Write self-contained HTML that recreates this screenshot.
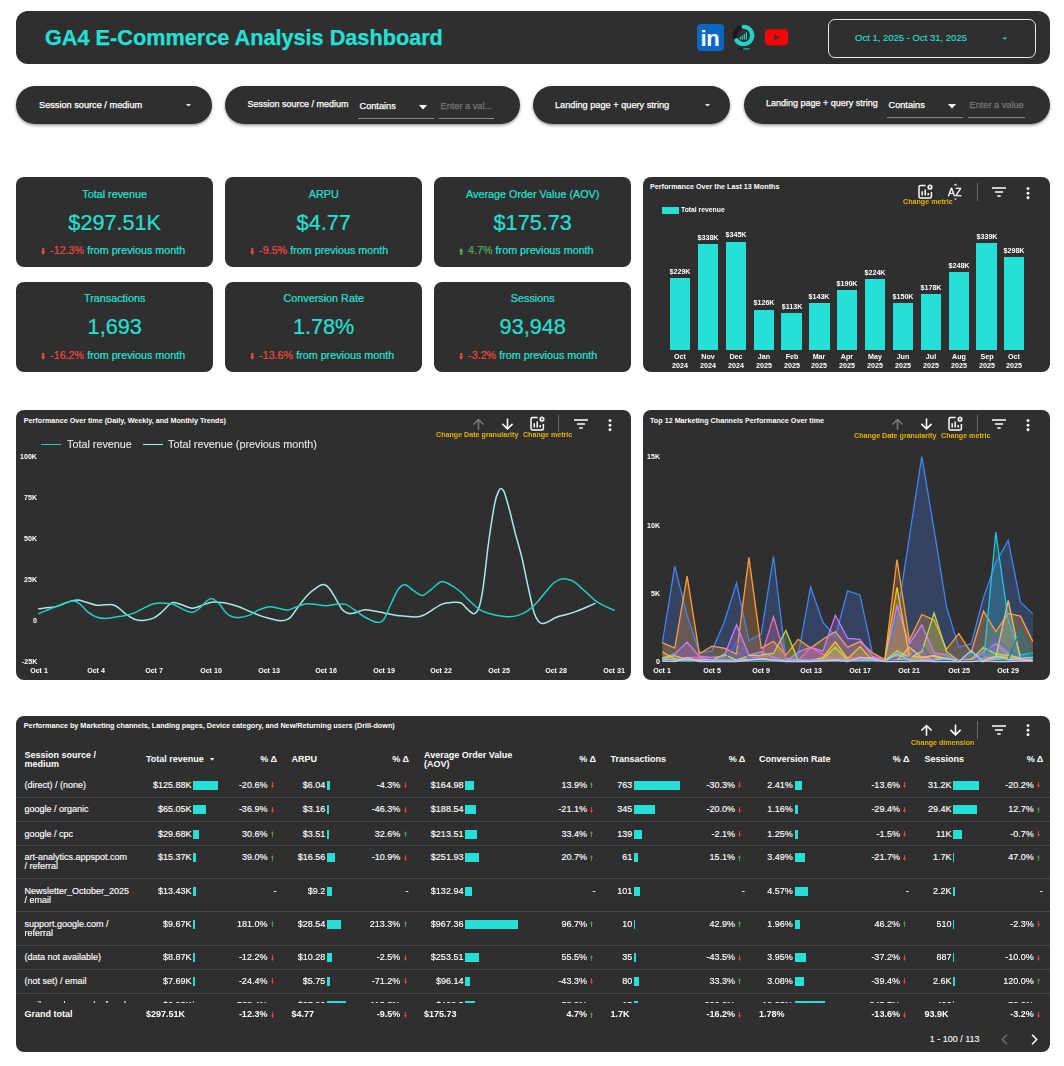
<!DOCTYPE html><html lang="en"><head><meta charset="utf-8"><title>GA4 E-Commerce Analysis Dashboard</title><style>
*{box-sizing:border-box;margin:0;padding:0}
html,body{width:1064px;height:1066px;background:#fff;overflow:hidden}
body{position:relative;font-family:"Liberation Sans",Arial,sans-serif;color:#fff}
.abs{position:absolute}
.panel{position:absolute;background:#2f2f2f;border-radius:8px}
.pill{position:absolute;background:#2f2f2f;border-radius:19px;height:38px;top:86px;box-shadow:0 1.5px 3px rgba(0,0,0,.42)}
.t{position:absolute;white-space:nowrap;line-height:1;-webkit-text-stroke:0.25px currentColor}
.ct{position:absolute;white-space:nowrap;line-height:1;font-weight:bold;font-size:7px;color:#fff;will-change:transform}
.kpi{position:absolute;background:#2f2f2f;border-radius:8px;width:197.4px;height:89.4px;text-align:center;color:#24e0d6}
.kpi .k1{position:absolute;left:0;right:0;top:11px;font-size:10.8px;line-height:12px;-webkit-text-stroke:0.2px currentColor}
.kpi .k2{position:absolute;left:0;right:0;top:32px;font-size:21.65px;line-height:26px;-webkit-text-stroke:0.2px currentColor}
.kpi .k3{position:absolute;left:25px;right:0;text-align:left;top:67px;font-size:10.75px;line-height:12px;white-space:nowrap;-webkit-text-stroke:0.2px currentColor}
.neg{color:#f0483e}.pos{color:#4caf50}
svg{position:absolute;overflow:visible}
</style></head><body>
<div class="panel" style="left:16px;top:11px;width:1034px;height:53px;border-radius:12px"></div>
<div class="t" style="left:45px;top:26.6px;font-size:21.68px;font-weight:bold;color:#24e0d6">GA4 E-Commerce Analysis Dashboard</div>
<div class="abs" style="left:697px;top:24px;width:27px;height:27px;border-radius:4px;background:#0a66c2"></div>
<div class="t" style="left:700.6px;top:27.5px;font-size:22px;font-weight:bold;color:#fff;letter-spacing:-0.4px;-webkit-text-stroke:0">in</div>
<svg style="left:732px;top:24px" width="24" height="28" viewBox="0 0 24 28">
<circle cx="11.6" cy="11.5" r="8.65" fill="none" stroke="#1b1b1b" stroke-width="4.3"/>
<path d="M11.6 2.85 A8.65 8.65 0 1 1 4.4 16.3" fill="none" stroke="#26d1c8" stroke-width="4.3" stroke-linecap="round"/>
<rect x="7.7" y="13" width="1.3" height="2.6" fill="#22c9c0"/><rect x="9.7" y="11.6" width="1.3" height="4" fill="#22c9c0"/><rect x="11.7" y="10" width="1.3" height="5.6" fill="#22c9c0"/><rect x="13.7" y="8.4" width="1.3" height="7.2" fill="#22c9c0"/>
<rect x="5.5" y="24.2" width="5.5" height="1.4" fill="#1b1b1b"/><rect x="11.3" y="24.2" width="6.2" height="1.4" fill="#1fa9a2"/>
</svg>
<svg style="left:765.2px;top:29.3px" width="23" height="17" viewBox="0 0 23 17"><rect x="0" y="0.3" width="23" height="16" rx="4" fill="#ff0000"/><path d="M9 5.2 L15 8.3 L9 11.4 Z" fill="#333"/></svg>
<div class="abs" style="left:828px;top:19px;width:208px;height:39px;border:1px solid #e6e6e6;border-radius:7px"></div>
<div class="t" style="left:855px;top:33px;font-size:9.5px;-webkit-text-stroke:0.1px currentColor;color:#24e0d6">Oct 1, 2025 - Oct 31, 2025</div>
<svg style="left:1002.3px;top:37.3px" width="6" height="4"><path d="M0.5 0.4 L5.1 0.4 L2.8 2.7 Z" fill="#24e0d6"/></svg>
<div class="pill" style="left:16px;width:196px"></div>
<div class="t" style="left:39px;top:100.7px;font-size:9.2px">Session source / medium</div>
<svg style="left:186px;top:104px" width="5" height="2.5"><path d="M0 0 L5 0 L2.5 2.5 Z" fill="#fff"/></svg>
<div class="pill" style="left:225px;width:295px"></div>
<div class="t" style="left:247.5px;top:99.6px;font-size:9px">Session source / medium</div>
<div class="t" style="left:359.5px;top:102px;font-size:9.2px">Contains</div>
<svg style="left:419px;top:104.6px" width="8" height="4.5"><path d="M0 0 L8 0 L4.0 4.5 Z" fill="#fff"/></svg>
<div class="abs" style="left:358px;top:118px;width:76px;height:1px;background:#8a8a8a"></div>
<div class="t" style="left:440.5px;top:102px;font-size:9.2px;color:#777">Enter a val...</div>
<div class="abs" style="left:439px;top:118px;width:55px;height:1px;background:#8a8a8a"></div>
<div class="pill" style="left:533px;width:197px"></div>
<div class="t" style="left:555px;top:100.8px;font-size:9.2px">Landing page + query string</div>
<svg style="left:705px;top:104px" width="5" height="2.5"><path d="M0 0 L5 0 L2.5 2.5 Z" fill="#fff"/></svg>
<div class="pill" style="left:744px;width:306px"></div>
<div class="t" style="left:766px;top:98.7px;font-size:9px">Landing page + query string</div>
<div class="t" style="left:888.5px;top:101px;font-size:9.2px">Contains</div>
<svg style="left:948px;top:103.6px" width="8" height="4.5"><path d="M0 0 L8 0 L4.0 4.5 Z" fill="#fff"/></svg>
<div class="abs" style="left:887px;top:117px;width:76px;height:1px;background:#8a8a8a"></div>
<div class="t" style="left:969.5px;top:101px;font-size:9.2px;color:#777">Enter a value</div>
<div class="abs" style="left:968px;top:117px;width:57px;height:1px;background:#8a8a8a"></div>
<div class="kpi" style="left:16px;top:177.3px"><div class="k1">Total revenue</div><div class="k2" style="top:32.5px">$297.51K</div><div class="k3"><svg style="position:static;display:inline-block;vertical-align:-1px;margin-right:4.6px" width="4.5" height="7" viewBox="0 0 4.5 7"><path d="M1.2 0 H3.3 V3.4 H4.5 L2.25 7 L0 3.4 H1.2 Z" fill="#f0483e"/></svg><span class="neg">-12.3%</span> from previous month</div></div>
<div class="kpi" style="left:225px;top:177.3px"><div class="k1">ARPU</div><div class="k2" style="top:32.5px">$4.77</div><div class="k3"><svg style="position:static;display:inline-block;vertical-align:-1px;margin-right:4.6px" width="4.5" height="7" viewBox="0 0 4.5 7"><path d="M1.2 0 H3.3 V3.4 H4.5 L2.25 7 L0 3.4 H1.2 Z" fill="#f0483e"/></svg><span class="neg">-9.5%</span> from previous month</div></div>
<div class="kpi" style="left:434px;top:177.3px"><div class="k1">Average Order Value (AOV)</div><div class="k2" style="top:32.5px">$175.73</div><div class="k3"><svg style="position:static;display:inline-block;vertical-align:-1px;margin-right:4.6px" width="4.5" height="7" viewBox="0 0 4.5 7"><path d="M1.2 7 H3.3 V3.6 H4.5 L2.25 0 L0 3.6 H1.2 Z" fill="#4caf50"/></svg><span class="pos">4.7%</span> from previous month</div></div>
<div class="kpi" style="left:16px;top:282.2px"><div class="k1" style="top:9.8px">Transactions</div><div class="k2">1,693</div><div class="k3"><svg style="position:static;display:inline-block;vertical-align:-1px;margin-right:4.6px" width="4.5" height="7" viewBox="0 0 4.5 7"><path d="M1.2 0 H3.3 V3.4 H4.5 L2.25 7 L0 3.4 H1.2 Z" fill="#f0483e"/></svg><span class="neg">-16.2%</span> from previous month</div></div>
<div class="kpi" style="left:225px;top:282.2px"><div class="k1" style="top:9.8px">Conversion Rate</div><div class="k2">1.78%</div><div class="k3"><svg style="position:static;display:inline-block;vertical-align:-1px;margin-right:4.6px" width="4.5" height="7" viewBox="0 0 4.5 7"><path d="M1.2 0 H3.3 V3.4 H4.5 L2.25 7 L0 3.4 H1.2 Z" fill="#f0483e"/></svg><span class="neg">-13.6%</span> from previous month</div></div>
<div class="kpi" style="left:434px;top:282.2px"><div class="k1" style="top:9.8px">Sessions</div><div class="k2">93,948</div><div class="k3"><svg style="position:static;display:inline-block;vertical-align:-1px;margin-right:4.6px" width="4.5" height="7" viewBox="0 0 4.5 7"><path d="M1.2 0 H3.3 V3.4 H4.5 L2.25 7 L0 3.4 H1.2 Z" fill="#f0483e"/></svg><span class="neg">-3.2%</span> from previous month</div></div>
<div class="panel" style="left:643px;top:177px;width:407px;height:195px"></div>
<div class="t" style="left:650px;top:182.5px;font-size:7.2px;font-weight:bold;-webkit-text-stroke:0;color:#fff">Performance Over the Last 13 Months</div>
<svg style="left:918.2px;top:184.2px" width="15" height="15" viewBox="0 0 15 15" fill="none" stroke="#fff">
<path d="M7.6 1.6 H2.6 Q1 1.6 1 3.2 V12.4 Q1 14 2.6 14 H11.8 Q13.4 14 13.4 12.4 V8" stroke-width="1.5"/>
<path d="M4.2 11.4 V7.2 M7.2 11.4 V5.6 M10.2 11.4 V9" stroke-width="1.5"/>
<circle cx="12" cy="3.2" r="1.6" stroke-width="1.4"/>
<path d="M12 0.2 V1 M12 5.4 V6.2 M9 3.2 H9.8 M14.2 3.2 H15 M9.9 1.1 L10.5 1.7 M13.5 4.7 L14.1 5.3 M14.1 1.1 L13.5 1.7 M10.5 4.7 L9.9 5.3" stroke-width="1.1"/>
</svg>
<div class="t" style="left:947.7px;top:188px;font-size:10.4px;color:#fff;letter-spacing:0.4px;-webkit-text-stroke:0.3px #fff;will-change:transform">AZ</div>
<svg style="left:953px;top:183px" width="5" height="18" viewBox="0 0 5 18" fill="#cfcfcf"><path d="M0.3 2.6 L2.5 0.4 L4.7 2.6 Z"/><path d="M0.8 15.6 L2.5 17.3 L4.2 15.6 Z"/></svg>
<div class="abs" style="left:977px;top:183px;width:1px;height:18px;background:#6b6b6b"></div>
<svg style="left:992px;top:187px" width="14" height="10" viewBox="0 0 14 10" stroke="#fff" stroke-width="1.5"><path d="M0 1 H14 M3 5 H11 M5.3 9 H8.7"/></svg>
<svg style="left:1026.2px;top:186.5px" width="4" height="13" viewBox="0 0 4 13" fill="#fff"><circle cx="2" cy="1.6" r="1.45"/><circle cx="2" cy="6.2" r="1.45"/><circle cx="2" cy="10.8" r="1.45"/></svg>
<div class="ct" style="left:903.4px;top:198.82500000000002px;font-size:7.15px;color:#e6b400;font-weight:bold">Change metric</div>
<div class="abs" style="left:662px;top:207px;width:17px;height:7px;background:#24e0d6"></div>
<div class="ct" style="left:680.7px;top:206.7px;font-size:6.8px;color:#fff;font-weight:bold">Total revenue</div>
<div class="abs" style="left:670.00px;top:278.18px;width:20.3px;height:72.02px;background:#24e0d6"></div>
<div class="ct" style="left:650.15px;top:268.9045px;width:60px;text-align:center;font-size:7.15px;color:#fff">$229K</div>
<div class="ct" style="left:650.15px;top:353.52500000000003px;width:60px;text-align:center;font-size:7.15px;color:#fff">Oct</div>
<div class="ct" style="left:650.15px;top:362.725px;width:60px;text-align:center;font-size:7.15px;color:#fff">2024</div>
<div class="abs" style="left:697.85px;top:243.90px;width:20.3px;height:106.30px;background:#24e0d6"></div>
<div class="ct" style="left:678.0px;top:234.62400000000002px;width:60px;text-align:center;font-size:7.15px;color:#fff">$338K</div>
<div class="ct" style="left:678.0px;top:353.52500000000003px;width:60px;text-align:center;font-size:7.15px;color:#fff">Nov</div>
<div class="ct" style="left:678.0px;top:362.725px;width:60px;text-align:center;font-size:7.15px;color:#fff">2024</div>
<div class="abs" style="left:725.70px;top:241.70px;width:20.3px;height:108.50px;background:#24e0d6"></div>
<div class="ct" style="left:705.85px;top:232.4225px;width:60px;text-align:center;font-size:7.15px;color:#fff">$345K</div>
<div class="ct" style="left:705.85px;top:353.52500000000003px;width:60px;text-align:center;font-size:7.15px;color:#fff">Dec</div>
<div class="ct" style="left:705.85px;top:362.725px;width:60px;text-align:center;font-size:7.15px;color:#fff">2024</div>
<div class="abs" style="left:753.55px;top:309.77px;width:20.3px;height:40.43px;background:#24e0d6"></div>
<div class="ct" style="left:733.6999999999999px;top:300.498px;width:60px;text-align:center;font-size:7.15px;color:#fff">$126K</div>
<div class="ct" style="left:733.6999999999999px;top:353.52500000000003px;width:60px;text-align:center;font-size:7.15px;color:#fff">Jan</div>
<div class="ct" style="left:733.6999999999999px;top:362.725px;width:60px;text-align:center;font-size:7.15px;color:#fff">2025</div>
<div class="abs" style="left:781.40px;top:313.46px;width:20.3px;height:36.74px;background:#24e0d6"></div>
<div class="ct" style="left:761.55px;top:304.1865px;width:60px;text-align:center;font-size:7.15px;color:#fff">$113K</div>
<div class="ct" style="left:761.55px;top:353.52500000000003px;width:60px;text-align:center;font-size:7.15px;color:#fff">Feb</div>
<div class="ct" style="left:761.55px;top:362.725px;width:60px;text-align:center;font-size:7.15px;color:#fff">2025</div>
<div class="abs" style="left:809.25px;top:303.23px;width:20.3px;height:46.97px;background:#24e0d6"></div>
<div class="ct" style="left:789.4px;top:293.9515px;width:60px;text-align:center;font-size:7.15px;color:#fff">$143K</div>
<div class="ct" style="left:789.4px;top:353.52500000000003px;width:60px;text-align:center;font-size:7.15px;color:#fff">Mar</div>
<div class="ct" style="left:789.4px;top:362.725px;width:60px;text-align:center;font-size:7.15px;color:#fff">2025</div>
<div class="abs" style="left:837.10px;top:290.44px;width:20.3px;height:59.76px;background:#24e0d6"></div>
<div class="ct" style="left:817.25px;top:281.17px;width:60px;text-align:center;font-size:7.15px;color:#fff">$190K</div>
<div class="ct" style="left:817.25px;top:353.52500000000003px;width:60px;text-align:center;font-size:7.15px;color:#fff">Apr</div>
<div class="ct" style="left:817.25px;top:362.725px;width:60px;text-align:center;font-size:7.15px;color:#fff">2025</div>
<div class="abs" style="left:864.95px;top:279.35px;width:20.3px;height:70.85px;background:#24e0d6"></div>
<div class="ct" style="left:845.1px;top:270.077px;width:60px;text-align:center;font-size:7.15px;color:#fff">$224K</div>
<div class="ct" style="left:845.1px;top:353.52500000000003px;width:60px;text-align:center;font-size:7.15px;color:#fff">May</div>
<div class="ct" style="left:845.1px;top:362.725px;width:60px;text-align:center;font-size:7.15px;color:#fff">2025</div>
<div class="abs" style="left:892.80px;top:303.02px;width:20.3px;height:47.17px;background:#24e0d6"></div>
<div class="ct" style="left:872.9499999999999px;top:293.75px;width:60px;text-align:center;font-size:7.15px;color:#fff">$150K</div>
<div class="ct" style="left:872.9499999999999px;top:353.52500000000003px;width:60px;text-align:center;font-size:7.15px;color:#fff">Jun</div>
<div class="ct" style="left:872.9499999999999px;top:362.725px;width:60px;text-align:center;font-size:7.15px;color:#fff">2025</div>
<div class="abs" style="left:920.65px;top:294.22px;width:20.3px;height:55.98px;background:#24e0d6"></div>
<div class="ct" style="left:900.8px;top:284.944px;width:60px;text-align:center;font-size:7.15px;color:#fff">$178K</div>
<div class="ct" style="left:900.8px;top:353.52500000000003px;width:60px;text-align:center;font-size:7.15px;color:#fff">Jul</div>
<div class="ct" style="left:900.8px;top:362.725px;width:60px;text-align:center;font-size:7.15px;color:#fff">2025</div>
<div class="abs" style="left:948.50px;top:272.20px;width:20.3px;height:78.00px;background:#24e0d6"></div>
<div class="ct" style="left:928.65px;top:262.92900000000003px;width:60px;text-align:center;font-size:7.15px;color:#fff">$248K</div>
<div class="ct" style="left:928.65px;top:353.52500000000003px;width:60px;text-align:center;font-size:7.15px;color:#fff">Aug</div>
<div class="ct" style="left:928.65px;top:362.725px;width:60px;text-align:center;font-size:7.15px;color:#fff">2025</div>
<div class="abs" style="left:976.35px;top:243.18px;width:20.3px;height:107.02px;background:#24e0d6"></div>
<div class="ct" style="left:956.5px;top:233.9095px;width:60px;text-align:center;font-size:7.15px;color:#fff">$339K</div>
<div class="ct" style="left:956.5px;top:353.52500000000003px;width:60px;text-align:center;font-size:7.15px;color:#fff">Sep</div>
<div class="ct" style="left:956.5px;top:362.725px;width:60px;text-align:center;font-size:7.15px;color:#fff">2025</div>
<div class="abs" style="left:1004.20px;top:257.28px;width:20.3px;height:92.92px;background:#24e0d6"></div>
<div class="ct" style="left:984.35px;top:248.00400000000002px;width:60px;text-align:center;font-size:7.15px;color:#fff">$298K</div>
<div class="ct" style="left:984.35px;top:353.52500000000003px;width:60px;text-align:center;font-size:7.15px;color:#fff">Oct</div>
<div class="ct" style="left:984.35px;top:362.725px;width:60px;text-align:center;font-size:7.15px;color:#fff">2025</div>
<div class="panel" style="left:16px;top:410px;width:615px;height:270px"></div>
<div class="t" style="left:23.8px;top:417.5px;font-size:7.18px;font-weight:bold;-webkit-text-stroke:0;color:#fff">Performance Over time (Daily, Weekly, and Monthly Trends)</div>
<svg style="left:472.3px;top:417.5px" width="13" height="12.4" viewBox="0 0 12 12" preserveAspectRatio="none" fill="none" stroke="#7a7a7a" stroke-width="1.45"><path d="M6 11.5 V1.6 M1.3 6.3 L6 1.5 L10.7 6.3"/></svg>
<svg style="left:501.3px;top:417.7px" width="13" height="12.4" viewBox="0 0 12 12" preserveAspectRatio="none" fill="none" stroke="#fff" stroke-width="1.45"><path d="M6 0.5 V10.4 M1.3 5.7 L6 10.5 L10.7 5.7"/></svg>
<svg style="left:530px;top:416px" width="15" height="15" viewBox="0 0 15 15" fill="none" stroke="#fff">
<path d="M7.6 1.6 H2.6 Q1 1.6 1 3.2 V12.4 Q1 14 2.6 14 H11.8 Q13.4 14 13.4 12.4 V8" stroke-width="1.5"/>
<path d="M4.2 11.4 V7.2 M7.2 11.4 V5.6 M10.2 11.4 V9" stroke-width="1.5"/>
<circle cx="12" cy="3.2" r="1.6" stroke-width="1.4"/>
<path d="M12 0.2 V1 M12 5.4 V6.2 M9 3.2 H9.8 M14.2 3.2 H15 M9.9 1.1 L10.5 1.7 M13.5 4.7 L14.1 5.3 M14.1 1.1 L13.5 1.7 M10.5 4.7 L9.9 5.3" stroke-width="1.1"/>
</svg>
<div class="abs" style="left:558px;top:414.6px;width:1px;height:17px;background:#6b6b6b"></div>
<svg style="left:574px;top:419.3px" width="14" height="10" viewBox="0 0 14 10" stroke="#fff" stroke-width="1.5"><path d="M0 1 H14 M3 5 H11 M5.3 9 H8.7"/></svg>
<svg style="left:608px;top:419px" width="4" height="13" viewBox="0 0 4 13" fill="#fff"><circle cx="2" cy="1.6" r="1.45"/><circle cx="2" cy="6.2" r="1.45"/><circle cx="2" cy="10.8" r="1.45"/></svg>
<div class="ct" style="left:436px;top:432.43px;font-size:7.14px;color:#e6b400;font-weight:bold">Change Date granularity</div>
<div class="ct" style="left:522.8px;top:432.45px;font-size:7.1px;color:#e6b400;font-weight:bold">Change metric</div>
<div class="abs" style="left:41px;top:443.6px;width:20px;height:1.4px;background:#1fd0c8"></div>
<div class="t" style="left:67px;top:438.8px;font-size:10.8px;color:#e6e6e6;-webkit-text-stroke:0.12px #e6e6e6;will-change:transform">Total revenue</div>
<div class="abs" style="left:142.5px;top:443.6px;width:20px;height:1.4px;background:#a6ece8"></div>
<div class="t" style="left:167.7px;top:438.8px;font-size:10.8px;color:#e6e6e6;-webkit-text-stroke:0.12px #e6e6e6;will-change:transform">Total revenue (previous month)</div>
<div class="ct" style="right:1027px;top:454.0px;font-size:7.1px;color:#fff">100K</div>
<div class="ct" style="right:1027px;top:495.0px;font-size:7.1px;color:#fff">75K</div>
<div class="ct" style="right:1027px;top:536.0px;font-size:7.1px;color:#fff">50K</div>
<div class="ct" style="right:1027px;top:577.0px;font-size:7.1px;color:#fff">25K</div>
<div class="ct" style="right:1027px;top:618.0px;font-size:7.1px;color:#fff">0</div>
<div class="ct" style="right:1027px;top:659.0px;font-size:7.1px;color:#fff">-25K</div>
<div class="ct" style="left:8.899999999999999px;top:667.6500000000001px;width:60px;text-align:center;font-size:7.1px;color:#fff">Oct 1</div>
<div class="ct" style="left:66.41px;top:667.6500000000001px;width:60px;text-align:center;font-size:7.1px;color:#fff">Oct 4</div>
<div class="ct" style="left:123.91999999999999px;top:667.6500000000001px;width:60px;text-align:center;font-size:7.1px;color:#fff">Oct 7</div>
<div class="ct" style="left:181.43px;top:667.6500000000001px;width:60px;text-align:center;font-size:7.1px;color:#fff">Oct 10</div>
<div class="ct" style="left:238.94px;top:667.6500000000001px;width:60px;text-align:center;font-size:7.1px;color:#fff">Oct 13</div>
<div class="ct" style="left:296.45px;top:667.6500000000001px;width:60px;text-align:center;font-size:7.1px;color:#fff">Oct 16</div>
<div class="ct" style="left:353.96px;top:667.6500000000001px;width:60px;text-align:center;font-size:7.1px;color:#fff">Oct 19</div>
<div class="ct" style="left:411.46999999999997px;top:667.6500000000001px;width:60px;text-align:center;font-size:7.1px;color:#fff">Oct 22</div>
<div class="ct" style="left:468.97999999999996px;top:667.6500000000001px;width:60px;text-align:center;font-size:7.1px;color:#fff">Oct 25</div>
<div class="ct" style="left:526.49px;top:667.6500000000001px;width:60px;text-align:center;font-size:7.1px;color:#fff">Oct 28</div>
<div class="ct" style="left:584.0px;top:667.6500000000001px;width:60px;text-align:center;font-size:7.1px;color:#fff">Oct 31</div>
<svg style="left:0;top:0" width="1064" height="1066" viewBox="0 0 1064 1066" fill="none" stroke-width="1.5" stroke-linejoin="round" stroke-linecap="round"><path d="M38.8 608.7 C40.5 608.5 45.6 608.0 48.8 607.6 C52.0 607.2 54.9 607.0 58.0 606.1 C61.1 605.2 64.4 603.3 67.6 602.3 C70.8 601.3 74.1 600.1 77.2 600.1 C80.3 600.1 83.2 601.4 86.4 602.3 C89.6 603.1 93.3 604.8 96.4 605.2 C99.5 605.6 102.5 604.9 105.2 604.8 C107.9 604.7 110.5 604.3 112.7 604.8 C114.9 605.3 116.1 606.0 118.3 607.6 C120.5 609.2 123.2 612.3 125.9 614.2 C128.6 616.1 131.9 618.2 134.7 619.2 C137.5 620.2 139.6 620.6 142.8 620.4 C146.0 620.2 150.8 619.2 153.9 617.9 C157.0 616.5 159.1 614.5 161.6 612.3 C164.1 610.1 167.2 606.4 169.1 604.8 C171.0 603.2 171.1 602.6 173.0 602.5 C174.9 602.4 177.2 603.2 180.4 604.2 C183.6 605.2 188.8 608.0 192.2 608.2 C195.6 608.5 197.8 606.7 201.0 605.7 C204.2 604.7 208.0 602.8 211.4 602.3 C214.8 601.8 218.5 602.3 221.7 602.6 C224.9 602.9 227.7 603.5 230.5 604.2 C233.3 604.9 235.6 605.5 238.8 606.7 C242.0 607.9 245.9 609.8 249.7 611.4 C253.5 613.0 258.2 615.0 261.4 616.1 C264.6 617.2 265.8 617.5 268.9 618.3 C272.0 619.1 277.0 620.6 280.2 620.8 C283.4 620.9 286.0 620.2 288.0 619.2 C290.0 618.2 290.9 616.9 292.4 615.1 C293.9 613.3 294.5 611.8 297.0 608.5 C299.5 605.2 303.8 599.0 307.2 595.4 C310.6 591.8 315.0 588.7 317.7 586.9 C320.4 585.1 321.5 584.3 323.4 584.5 C325.3 584.7 326.8 585.3 329.0 587.9 C331.2 590.5 334.3 596.5 336.5 600.1 C338.7 603.7 340.3 607.3 342.2 609.5 C344.1 611.7 345.9 612.6 347.8 613.2 C349.7 613.8 350.7 613.8 353.5 613.2 C356.3 612.6 361.3 610.2 364.7 609.8 C368.1 609.4 370.9 610.5 374.1 611.0 C377.3 611.5 380.4 612.2 383.9 612.9 C387.3 613.6 391.6 614.6 394.8 615.1 C398.0 615.6 399.2 615.8 403.1 616.1 C407.0 616.4 414.4 617.2 418.3 616.8 C422.2 616.4 422.6 615.8 426.5 613.7 C430.4 611.6 437.2 606.3 441.4 604.4 C445.5 602.5 448.2 602.8 451.4 602.5 C454.6 602.2 457.9 601.6 460.7 602.8 C463.4 604.0 465.7 607.8 467.9 609.6 C470.1 611.4 472.2 614.2 474.1 613.7 C476.0 613.2 477.8 611.1 479.3 606.5 C480.9 601.9 481.8 596.5 483.4 585.8 C484.9 575.1 486.7 556.2 488.6 542.4 C490.5 528.6 493.1 511.7 494.8 503.1 C496.5 494.5 497.9 493.1 498.9 490.7 C499.9 488.3 500.1 488.4 501.0 488.6 C501.9 488.8 502.7 488.2 504.1 491.7 C505.5 495.1 507.4 502.2 509.3 509.3 C511.2 516.4 513.4 526.2 515.5 534.1 C517.6 542.0 519.6 548.2 521.7 556.8 C523.8 565.4 525.8 576.5 527.9 585.8 C530.0 595.1 532.2 606.7 534.1 612.7 C536.0 618.7 537.7 620.2 539.2 622.0 C540.8 623.8 541.9 623.5 543.4 623.4 C544.9 623.3 546.3 622.6 548.5 621.6 C550.7 620.6 553.3 618.4 556.4 617.2 C559.5 616.0 564.0 615.2 567.2 614.3 C570.4 613.4 572.5 612.7 575.6 611.6 C578.7 610.5 582.6 608.9 585.8 607.5 C589.0 606.1 593.4 604.1 594.9 603.4" stroke="#a6ece8"/><path d="M38.8 613.6 C40.5 612.9 45.6 610.8 48.8 609.5 C52.0 608.2 54.9 606.9 58.0 605.7 C61.1 604.5 64.8 603.0 67.6 602.3 C70.4 601.5 72.9 600.8 75.1 601.2 C77.3 601.6 78.6 602.9 80.8 604.8 C83.0 606.6 85.7 610.3 88.3 612.3 C90.9 614.3 93.6 616.0 96.4 617.0 C99.2 618.0 102.0 618.5 105.2 618.5 C108.4 618.5 112.4 617.5 115.5 617.0 C118.6 616.5 120.8 616.4 124.0 615.7 C127.2 615.0 131.2 614.2 134.7 612.9 C138.1 611.5 141.5 609.1 144.7 607.6 C147.9 606.1 151.1 604.6 153.9 603.8 C156.7 603.0 158.4 602.8 161.6 602.9 C164.8 603.0 169.6 603.2 173.0 604.2 C176.4 605.2 179.1 607.7 182.3 609.1 C185.5 610.5 189.4 612.6 192.2 612.5 C195.0 612.4 196.8 610.4 199.2 608.5 C201.6 606.6 204.7 602.6 206.7 601.0 C208.7 599.4 209.8 598.6 211.4 598.6 C213.0 598.6 214.7 600.0 216.1 601.0 C217.5 602.0 218.4 602.9 220.0 604.8 C221.6 606.7 223.8 610.4 225.6 612.3 C227.3 614.2 228.3 615.1 230.5 616.0 C232.7 616.9 235.6 617.8 238.8 617.6 C242.0 617.5 246.6 616.3 249.7 615.1 C252.8 613.9 254.4 611.8 257.6 610.4 C260.8 609.0 265.4 607.1 268.9 606.7 C272.3 606.3 275.1 607.7 278.3 608.2 C281.5 608.8 284.9 610.2 288.0 610.0 C291.1 609.8 293.8 607.7 297.0 606.7 C300.2 605.7 303.8 604.1 307.2 603.8 C310.6 603.5 314.5 604.5 317.7 604.8 C320.9 605.1 323.3 605.8 326.4 605.7 C329.5 605.6 333.3 604.4 336.5 604.2 C339.7 604.0 342.5 603.4 345.6 604.4 C348.7 605.4 352.1 608.3 355.3 610.4 C358.5 612.5 361.1 615.0 364.7 617.0 C368.3 619.0 373.8 621.9 377.0 622.3 C380.2 622.7 381.6 622.3 383.9 619.2 C386.2 616.1 388.6 608.9 391.0 603.8 C393.4 598.7 396.2 592.0 398.6 588.8 C401.0 585.6 402.7 584.4 405.2 584.7 C407.7 585.0 410.8 588.9 413.6 590.7 C416.5 592.5 419.5 595.6 422.3 595.5 C425.1 595.4 427.5 592.2 430.7 589.9 C433.9 587.6 437.9 582.5 441.4 581.7 C444.8 581.0 448.2 583.7 451.4 585.4 C454.6 587.1 457.6 589.4 460.7 592.0 C463.8 594.6 466.8 598.4 470.0 601.3 C473.2 604.2 476.6 607.6 479.7 609.6 C482.8 611.6 485.4 612.3 488.6 613.3 C491.8 614.3 495.4 615.2 498.9 615.8 C502.3 616.4 506.1 616.9 509.3 616.8 C512.5 616.7 515.0 616.4 518.1 615.4 C521.2 614.4 524.7 612.8 527.9 610.6 C531.1 608.4 534.1 605.6 537.2 602.3 C540.3 599.0 543.8 594.2 546.5 591.0 C549.2 587.8 551.5 584.9 553.7 583.0 C555.9 581.1 557.8 580.3 559.5 579.6 C561.2 578.9 562.2 578.7 564.0 578.8 C565.8 578.9 568.1 579.3 570.0 580.0 C571.9 580.7 573.0 580.9 575.6 582.9 C578.2 584.9 582.6 589.1 585.8 592.0 C589.0 594.9 591.8 598.0 594.9 600.3 C598.0 602.6 601.2 604.2 604.4 605.9 C607.6 607.5 612.3 609.5 613.9 610.2" stroke="#1fd0c8"/></svg>
<div class="panel" style="left:643px;top:410px;width:407px;height:270px"></div>
<div class="t" style="left:650px;top:416.5px;font-size:7.2px;font-weight:bold;-webkit-text-stroke:0;color:#fff">Top 12 Marketing Channels Performance Over time</div>
<svg style="left:891.0px;top:417.5px" width="13" height="12.4" viewBox="0 0 12 12" preserveAspectRatio="none" fill="none" stroke="#7a7a7a" stroke-width="1.45"><path d="M6 11.5 V1.6 M1.3 6.3 L6 1.5 L10.7 6.3"/></svg>
<svg style="left:919.5px;top:417.7px" width="13" height="12.4" viewBox="0 0 12 12" preserveAspectRatio="none" fill="none" stroke="#fff" stroke-width="1.45"><path d="M6 0.5 V10.4 M1.3 5.7 L6 10.5 L10.7 5.7"/></svg>
<svg style="left:948px;top:416px" width="15" height="15" viewBox="0 0 15 15" fill="none" stroke="#fff">
<path d="M7.6 1.6 H2.6 Q1 1.6 1 3.2 V12.4 Q1 14 2.6 14 H11.8 Q13.4 14 13.4 12.4 V8" stroke-width="1.5"/>
<path d="M4.2 11.4 V7.2 M7.2 11.4 V5.6 M10.2 11.4 V9" stroke-width="1.5"/>
<circle cx="12" cy="3.2" r="1.6" stroke-width="1.4"/>
<path d="M12 0.2 V1 M12 5.4 V6.2 M9 3.2 H9.8 M14.2 3.2 H15 M9.9 1.1 L10.5 1.7 M13.5 4.7 L14.1 5.3 M14.1 1.1 L13.5 1.7 M10.5 4.7 L9.9 5.3" stroke-width="1.1"/>
</svg>
<div class="abs" style="left:977px;top:414.6px;width:1px;height:17px;background:#6b6b6b"></div>
<svg style="left:992px;top:419.3px" width="14" height="10" viewBox="0 0 14 10" stroke="#fff" stroke-width="1.5"><path d="M0 1 H14 M3 5 H11 M5.3 9 H8.7"/></svg>
<svg style="left:1026.2px;top:419px" width="4" height="13" viewBox="0 0 4 13" fill="#fff"><circle cx="2" cy="1.6" r="1.45"/><circle cx="2" cy="6.2" r="1.45"/><circle cx="2" cy="10.8" r="1.45"/></svg>
<div class="ct" style="left:853.7px;top:433.43px;font-size:7.14px;color:#e6b400;font-weight:bold">Change Date granularity</div>
<div class="ct" style="left:941px;top:433.43px;font-size:7.14px;color:#e6b400;font-weight:bold">Change metric</div>
<div class="ct" style="right:404px;top:453.84999999999997px;font-size:7.1px;color:#fff">15K</div>
<div class="ct" style="right:404px;top:522.75px;font-size:7.1px;color:#fff">10K</div>
<div class="ct" style="right:404px;top:590.85px;font-size:7.1px;color:#fff">5K</div>
<div class="ct" style="right:404px;top:658.95px;font-size:7.1px;color:#fff">0</div>
<div class="ct" style="left:632.4px;top:667.6500000000001px;width:60px;text-align:center;font-size:7.1px;color:#fff">Oct 1</div>
<div class="ct" style="left:681.8px;top:667.6500000000001px;width:60px;text-align:center;font-size:7.1px;color:#fff">Oct 5</div>
<div class="ct" style="left:731.1999999999999px;top:667.6500000000001px;width:60px;text-align:center;font-size:7.1px;color:#fff">Oct 9</div>
<div class="ct" style="left:780.5999999999999px;top:667.6500000000001px;width:60px;text-align:center;font-size:7.1px;color:#fff">Oct 13</div>
<div class="ct" style="left:830.0px;top:667.6500000000001px;width:60px;text-align:center;font-size:7.1px;color:#fff">Oct 17</div>
<div class="ct" style="left:879.4px;top:667.6500000000001px;width:60px;text-align:center;font-size:7.1px;color:#fff">Oct 21</div>
<div class="ct" style="left:928.8px;top:667.6500000000001px;width:60px;text-align:center;font-size:7.1px;color:#fff">Oct 25</div>
<div class="ct" style="left:978.2px;top:667.6500000000001px;width:60px;text-align:center;font-size:7.1px;color:#fff">Oct 29</div>
<svg style="left:0;top:0" width="1064" height="1066" viewBox="0 0 1064 1066" stroke-width="1.3" stroke-linejoin="miter"><polygon points="662.4,661.6 662.4,642.3 674.8,566.3 687.1,615.3 699.4,652.5 711.8,651.1 724.1,622.5 736.5,583.0 748.9,640.6 761.2,634.0 773.5,556.5 785.9,659.0 798.2,655.1 810.6,587.0 822.9,622.1 835.3,636.3 847.6,590.8 860.0,594.9 872.3,652.7 884.7,659.6 897.0,618.0 909.4,536.7 921.8,456.6 934.1,529.9 946.5,606.6 958.8,647.2 971.1,643.9 983.5,597.6 995.8,562.6 1008.2,540.4 1020.5,602.1 1032.9,613.9 1032.9,661.6" fill="#4285f4" fill-opacity="0.25" stroke="none"/><polygon points="662.4,661.6 662.4,642.7 674.8,648.0 687.1,576.1 699.4,653.7 711.8,646.2 724.1,648.1 736.5,654.1 748.9,557.4 761.2,648.1 773.5,641.3 785.9,655.1 798.2,639.3 810.6,648.1 822.9,639.3 835.3,631.6 847.6,647.2 860.0,641.6 872.3,652.7 884.7,659.6 897.0,559.5 909.4,640.4 921.8,614.5 934.1,620.1 946.5,649.3 958.8,633.7 971.1,652.7 983.5,611.2 995.8,631.6 1008.2,613.4 1020.5,616.1 1032.9,641.6 1032.9,661.6" fill="#ff9e40" fill-opacity="0.25" stroke="none"/><polygon points="662.4,661.6 662.4,658.1 674.8,653.7 687.1,642.3 699.4,656.2 711.8,657.5 724.1,656.2 736.5,624.8 748.9,655.1 761.2,651.8 773.5,657.1 785.9,661.6 798.2,652.1 810.6,647.2 822.9,651.1 835.3,615.3 847.6,638.4 860.0,639.3 872.3,656.2 884.7,660.2 897.0,605.5 909.4,643.9 921.8,624.8 934.1,652.7 946.5,654.8 958.8,661.6 971.1,660.2 983.5,651.7 995.8,643.9 1008.2,654.0 1020.5,660.0 1032.9,660.0 1032.9,661.6" fill="#c77dff" fill-opacity="0.25" stroke="none"/><polygon points="662.4,661.6 662.4,660.2 674.8,660.2 687.1,657.7 699.4,657.5 711.8,660.2 724.1,660.9 736.5,660.9 748.9,658.2 761.2,656.2 773.5,616.7 785.9,658.1 798.2,660.5 810.6,647.2 822.9,654.1 835.3,658.9 847.6,657.1 860.0,658.9 872.3,657.5 884.7,660.2 897.0,658.9 909.4,653.4 921.8,658.2 934.1,658.9 946.5,659.6 958.8,660.2 971.1,658.9 983.5,657.5 995.8,656.8 1008.2,658.9 1020.5,659.6 1032.9,660.2 1032.9,661.6" fill="#f06eb4" fill-opacity="0.25" stroke="none"/><polygon points="662.4,661.6 662.4,658.1 674.8,655.7 687.1,659.6 699.4,659.6 711.8,660.5 724.1,654.5 736.5,660.2 748.9,655.7 761.2,655.1 773.5,653.2 785.9,630.4 798.2,660.5 810.6,660.9 822.9,658.9 835.3,647.2 847.6,660.2 860.0,660.2 872.3,660.9 884.7,660.9 897.0,650.7 909.4,657.5 921.8,651.7 934.1,612.8 946.5,651.7 958.8,660.9 971.1,659.6 983.5,647.2 995.8,654.0 1008.2,655.5 1020.5,657.5 1032.9,658.9 1032.9,661.6" fill="#b8d957" fill-opacity="0.25" stroke="none"/><polygon points="662.4,661.6 662.4,651.8 674.8,659.0 687.1,660.9 699.4,660.9 711.8,660.9 724.1,660.9 736.5,660.9 748.9,660.9 761.2,660.9 773.5,660.9 785.9,660.9 798.2,660.9 810.6,660.9 822.9,657.5 835.3,641.9 847.6,658.9 860.0,646.6 872.3,660.2 884.7,660.9 897.0,587.4 909.4,656.2 921.8,657.5 934.1,656.2 946.5,660.2 958.8,660.9 971.1,660.9 983.5,660.2 995.8,656.2 1008.2,657.5 1020.5,658.9 1032.9,659.6 1032.9,661.6" fill="#f5c518" fill-opacity="0.25" stroke="none"/><polygon points="662.4,661.6 662.4,660.9 674.8,660.9 687.1,660.9 699.4,660.9 711.8,660.9 724.1,660.9 736.5,642.3 748.9,658.2 761.2,660.2 773.5,660.2 785.9,660.9 798.2,660.9 810.6,660.2 822.9,660.2 835.3,660.2 847.6,660.2 860.0,660.2 872.3,660.9 884.7,660.9 897.0,657.5 909.4,657.5 921.8,646.6 934.1,659.6 946.5,660.2 958.8,660.9 971.1,660.9 983.5,656.2 995.8,638.2 1008.2,649.3 1020.5,657.5 1032.9,658.9 1032.9,661.6" fill="#5c6bc0" fill-opacity="0.25" stroke="none"/><polygon points="662.4,661.6 662.4,660.2 674.8,660.2 687.1,660.9 699.4,660.9 711.8,660.9 724.1,660.9 736.5,660.9 748.9,660.9 761.2,660.9 773.5,660.9 785.9,660.9 798.2,660.9 810.6,660.9 822.9,660.9 835.3,660.9 847.6,660.9 860.0,660.9 872.3,660.9 884.7,660.9 897.0,660.9 909.4,660.9 921.8,660.9 934.1,660.9 946.5,660.9 958.8,660.9 971.1,660.9 983.5,661.6 995.8,532.2 1008.2,620.1 1020.5,655.1 1032.9,652.7 1032.9,661.6" fill="#26c6da" fill-opacity="0.25" stroke="none"/><polygon points="662.4,661.6 662.4,660.9 674.8,660.9 687.1,660.9 699.4,660.9 711.8,660.9 724.1,660.9 736.5,660.9 748.9,660.9 761.2,660.9 773.5,660.9 785.9,660.9 798.2,660.9 810.6,660.9 822.9,660.9 835.3,660.9 847.6,660.9 860.0,660.9 872.3,660.9 884.7,660.9 897.0,660.5 909.4,647.2 921.8,657.5 934.1,655.5 946.5,658.9 958.8,660.9 971.1,660.9 983.5,661.6 995.8,657.5 1008.2,600.3 1020.5,659.6 1032.9,660.5 1032.9,661.6" fill="#e6c07b" fill-opacity="0.25" stroke="none"/><polygon points="662.4,661.6 662.4,660.2 674.8,660.9 687.1,660.9 699.4,660.9 711.8,660.9 724.1,660.9 736.5,660.9 748.9,660.9 761.2,660.9 773.5,660.9 785.9,660.9 798.2,660.9 810.6,660.9 822.9,660.9 835.3,660.9 847.6,660.9 860.0,660.9 872.3,660.9 884.7,660.9 897.0,660.9 909.4,660.9 921.8,660.9 934.1,660.9 946.5,660.9 958.8,660.9 971.1,660.9 983.5,660.9 995.8,660.9 1008.2,659.6 1020.5,630.3 1032.9,659.6 1032.9,661.6" fill="#0f8a8a" fill-opacity="0.25" stroke="none"/><polygon points="662.4,661.6 662.4,658.9 674.8,660.2 687.1,660.2 699.4,660.2 711.8,660.2 724.1,660.2 736.5,660.2 748.9,659.6 761.2,658.9 773.5,660.2 785.9,660.2 798.2,660.2 810.6,660.2 822.9,660.2 835.3,659.6 847.6,660.2 860.0,660.2 872.3,660.2 884.7,661.3 897.0,654.0 909.4,660.2 921.8,660.2 934.1,660.2 946.5,657.9 958.8,661.6 971.1,650.7 983.5,661.6 995.8,656.2 1008.2,659.6 1020.5,658.2 1032.9,657.5 1032.9,661.6" fill="#80d8ff" fill-opacity="0.25" stroke="none"/><polygon points="662.4,661.6 662.4,660.9 674.8,661.6 687.1,657.5 699.4,661.6 711.8,661.6 724.1,661.6 736.5,661.6 748.9,660.2 761.2,658.9 773.5,660.2 785.9,661.6 798.2,661.6 810.6,661.6 822.9,660.9 835.3,660.2 847.6,661.6 860.0,657.5 872.3,658.2 884.7,661.6 897.0,661.6 909.4,661.6 921.8,660.9 934.1,661.6 946.5,661.6 958.8,661.6 971.1,661.6 983.5,660.9 995.8,661.6 1008.2,661.6 1020.5,660.9 1032.9,660.9 1032.9,661.6" fill="#e8b5f0" fill-opacity="0.25" stroke="none"/><polyline points="662.4,642.3 674.8,566.3 687.1,615.3 699.4,652.5 711.8,651.1 724.1,622.5 736.5,583.0 748.9,640.6 761.2,634.0 773.5,556.5 785.9,659.0 798.2,655.1 810.6,587.0 822.9,622.1 835.3,636.3 847.6,590.8 860.0,594.9 872.3,652.7 884.7,659.6 897.0,618.0 909.4,536.7 921.8,456.6 934.1,529.9 946.5,606.6 958.8,647.2 971.1,643.9 983.5,597.6 995.8,562.6 1008.2,540.4 1020.5,602.1 1032.9,613.9" fill="none" stroke="#4285f4"/><polyline points="662.4,642.7 674.8,648.0 687.1,576.1 699.4,653.7 711.8,646.2 724.1,648.1 736.5,654.1 748.9,557.4 761.2,648.1 773.5,641.3 785.9,655.1 798.2,639.3 810.6,648.1 822.9,639.3 835.3,631.6 847.6,647.2 860.0,641.6 872.3,652.7 884.7,659.6 897.0,559.5 909.4,640.4 921.8,614.5 934.1,620.1 946.5,649.3 958.8,633.7 971.1,652.7 983.5,611.2 995.8,631.6 1008.2,613.4 1020.5,616.1 1032.9,641.6" fill="none" stroke="#ff9e40"/><polyline points="662.4,658.1 674.8,653.7 687.1,642.3 699.4,656.2 711.8,657.5 724.1,656.2 736.5,624.8 748.9,655.1 761.2,651.8 773.5,657.1 785.9,661.6 798.2,652.1 810.6,647.2 822.9,651.1 835.3,615.3 847.6,638.4 860.0,639.3 872.3,656.2 884.7,660.2 897.0,605.5 909.4,643.9 921.8,624.8 934.1,652.7 946.5,654.8 958.8,661.6 971.1,660.2 983.5,651.7 995.8,643.9 1008.2,654.0 1020.5,660.0 1032.9,660.0" fill="none" stroke="#c77dff"/><polyline points="662.4,660.2 674.8,660.2 687.1,657.7 699.4,657.5 711.8,660.2 724.1,660.9 736.5,660.9 748.9,658.2 761.2,656.2 773.5,616.7 785.9,658.1 798.2,660.5 810.6,647.2 822.9,654.1 835.3,658.9 847.6,657.1 860.0,658.9 872.3,657.5 884.7,660.2 897.0,658.9 909.4,653.4 921.8,658.2 934.1,658.9 946.5,659.6 958.8,660.2 971.1,658.9 983.5,657.5 995.8,656.8 1008.2,658.9 1020.5,659.6 1032.9,660.2" fill="none" stroke="#f06eb4"/><polyline points="662.4,658.1 674.8,655.7 687.1,659.6 699.4,659.6 711.8,660.5 724.1,654.5 736.5,660.2 748.9,655.7 761.2,655.1 773.5,653.2 785.9,630.4 798.2,660.5 810.6,660.9 822.9,658.9 835.3,647.2 847.6,660.2 860.0,660.2 872.3,660.9 884.7,660.9 897.0,650.7 909.4,657.5 921.8,651.7 934.1,612.8 946.5,651.7 958.8,660.9 971.1,659.6 983.5,647.2 995.8,654.0 1008.2,655.5 1020.5,657.5 1032.9,658.9" fill="none" stroke="#b8d957"/><polyline points="662.4,651.8 674.8,659.0 687.1,660.9 699.4,660.9 711.8,660.9 724.1,660.9 736.5,660.9 748.9,660.9 761.2,660.9 773.5,660.9 785.9,660.9 798.2,660.9 810.6,660.9 822.9,657.5 835.3,641.9 847.6,658.9 860.0,646.6 872.3,660.2 884.7,660.9 897.0,587.4 909.4,656.2 921.8,657.5 934.1,656.2 946.5,660.2 958.8,660.9 971.1,660.9 983.5,660.2 995.8,656.2 1008.2,657.5 1020.5,658.9 1032.9,659.6" fill="none" stroke="#f5c518"/><polyline points="662.4,660.9 674.8,660.9 687.1,660.9 699.4,660.9 711.8,660.9 724.1,660.9 736.5,642.3 748.9,658.2 761.2,660.2 773.5,660.2 785.9,660.9 798.2,660.9 810.6,660.2 822.9,660.2 835.3,660.2 847.6,660.2 860.0,660.2 872.3,660.9 884.7,660.9 897.0,657.5 909.4,657.5 921.8,646.6 934.1,659.6 946.5,660.2 958.8,660.9 971.1,660.9 983.5,656.2 995.8,638.2 1008.2,649.3 1020.5,657.5 1032.9,658.9" fill="none" stroke="#5c6bc0"/><polyline points="662.4,660.2 674.8,660.2 687.1,660.9 699.4,660.9 711.8,660.9 724.1,660.9 736.5,660.9 748.9,660.9 761.2,660.9 773.5,660.9 785.9,660.9 798.2,660.9 810.6,660.9 822.9,660.9 835.3,660.9 847.6,660.9 860.0,660.9 872.3,660.9 884.7,660.9 897.0,660.9 909.4,660.9 921.8,660.9 934.1,660.9 946.5,660.9 958.8,660.9 971.1,660.9 983.5,661.6 995.8,532.2 1008.2,620.1 1020.5,655.1 1032.9,652.7" fill="none" stroke="#26c6da"/><polyline points="662.4,660.9 674.8,660.9 687.1,660.9 699.4,660.9 711.8,660.9 724.1,660.9 736.5,660.9 748.9,660.9 761.2,660.9 773.5,660.9 785.9,660.9 798.2,660.9 810.6,660.9 822.9,660.9 835.3,660.9 847.6,660.9 860.0,660.9 872.3,660.9 884.7,660.9 897.0,660.5 909.4,647.2 921.8,657.5 934.1,655.5 946.5,658.9 958.8,660.9 971.1,660.9 983.5,661.6 995.8,657.5 1008.2,600.3 1020.5,659.6 1032.9,660.5" fill="none" stroke="#e6c07b"/><polyline points="662.4,660.2 674.8,660.9 687.1,660.9 699.4,660.9 711.8,660.9 724.1,660.9 736.5,660.9 748.9,660.9 761.2,660.9 773.5,660.9 785.9,660.9 798.2,660.9 810.6,660.9 822.9,660.9 835.3,660.9 847.6,660.9 860.0,660.9 872.3,660.9 884.7,660.9 897.0,660.9 909.4,660.9 921.8,660.9 934.1,660.9 946.5,660.9 958.8,660.9 971.1,660.9 983.5,660.9 995.8,660.9 1008.2,659.6 1020.5,630.3 1032.9,659.6" fill="none" stroke="#0f8a8a"/><polyline points="662.4,658.9 674.8,660.2 687.1,660.2 699.4,660.2 711.8,660.2 724.1,660.2 736.5,660.2 748.9,659.6 761.2,658.9 773.5,660.2 785.9,660.2 798.2,660.2 810.6,660.2 822.9,660.2 835.3,659.6 847.6,660.2 860.0,660.2 872.3,660.2 884.7,661.3 897.0,654.0 909.4,660.2 921.8,660.2 934.1,660.2 946.5,657.9 958.8,661.6 971.1,650.7 983.5,661.6 995.8,656.2 1008.2,659.6 1020.5,658.2 1032.9,657.5" fill="none" stroke="#80d8ff"/><polyline points="662.4,660.9 674.8,661.6 687.1,657.5 699.4,661.6 711.8,661.6 724.1,661.6 736.5,661.6 748.9,660.2 761.2,658.9 773.5,660.2 785.9,661.6 798.2,661.6 810.6,661.6 822.9,660.9 835.3,660.2 847.6,661.6 860.0,657.5 872.3,658.2 884.7,661.6 897.0,661.6 909.4,661.6 921.8,660.9 934.1,661.6 946.5,661.6 958.8,661.6 971.1,661.6 983.5,660.9 995.8,661.6 1008.2,661.6 1020.5,660.9 1032.9,660.9" fill="none" stroke="#e8b5f0"/></svg>
<div class="panel" style="left:16px;top:716px;width:1034px;height:336px"></div>
<div class="t" style="left:23.8px;top:721.5px;font-size:7.22px;font-weight:bold;-webkit-text-stroke:0;color:#fff">Performance by Marketing channels, Landing pages, Device category, and New/Returning users (Drill-down)</div>
<svg style="left:919.5px;top:723.8px" width="13" height="12.4" viewBox="0 0 12 12" preserveAspectRatio="none" fill="none" stroke="#fff" stroke-width="1.45"><path d="M6 11.5 V1.6 M1.3 6.3 L6 1.5 L10.7 6.3"/></svg>
<svg style="left:948.5px;top:723.8px" width="13" height="12.4" viewBox="0 0 12 12" preserveAspectRatio="none" fill="none" stroke="#fff" stroke-width="1.45"><path d="M6 0.5 V10.4 M1.3 5.7 L6 10.5 L10.7 5.7"/></svg>
<div class="abs" style="left:977px;top:721px;width:1px;height:18px;background:#6b6b6b"></div>
<svg style="left:992px;top:724.6px" width="14" height="10" viewBox="0 0 14 10" stroke="#fff" stroke-width="1.5"><path d="M0 1 H14 M3 5 H11 M5.3 9 H8.7"/></svg>
<svg style="left:1026px;top:724px" width="4" height="13" viewBox="0 0 4 13" fill="#fff"><circle cx="2" cy="1.6" r="1.45"/><circle cx="2" cy="6.2" r="1.45"/><circle cx="2" cy="10.8" r="1.45"/></svg>
<div class="ct" style="left:911.3px;top:740.1500000000001px;font-size:7.1px;color:#e6b400;font-weight:bold">Change dimension</div>
<div class="t" style="left:24.6px;top:751.0px;font-size:9.0px;font-weight:bold;-webkit-text-stroke:0;color:#fff">Session source /</div>
<div class="t" style="left:24.6px;top:760.1999999999999px;font-size:9.0px;font-weight:bold;-webkit-text-stroke:0;color:#fff">medium</div>
<div class="t" style="left:146px;top:755.1999999999999px;font-size:9.0px;font-weight:bold;-webkit-text-stroke:0;color:#fff">Total revenue</div>
<svg style="left:210px;top:758px" width="5" height="3"><path d="M0 0 H4.4 L2.2 2.8 Z" fill="#fff"/></svg>
<div class="t" style="right:787px;top:755.1999999999999px;font-size:9.0px;font-weight:bold;-webkit-text-stroke:0;color:#fff">% Δ</div>
<div class="t" style="right:655px;top:755.1999999999999px;font-size:9.0px;font-weight:bold;-webkit-text-stroke:0;color:#fff">% Δ</div>
<div class="t" style="right:468px;top:755.1999999999999px;font-size:9.0px;font-weight:bold;-webkit-text-stroke:0;color:#fff">% Δ</div>
<div class="t" style="right:318.70000000000005px;top:755.1999999999999px;font-size:9.0px;font-weight:bold;-webkit-text-stroke:0;color:#fff">% Δ</div>
<div class="t" style="right:154.5px;top:755.1999999999999px;font-size:9.0px;font-weight:bold;-webkit-text-stroke:0;color:#fff">% Δ</div>
<div class="t" style="right:20.700000000000045px;top:755.1999999999999px;font-size:9.0px;font-weight:bold;-webkit-text-stroke:0;color:#fff">% Δ</div>
<div class="t" style="left:291.5px;top:755.1999999999999px;font-size:9.0px;font-weight:bold;-webkit-text-stroke:0;color:#fff">ARPU</div>
<div class="t" style="left:424px;top:751.0px;font-size:9.0px;font-weight:bold;-webkit-text-stroke:0;color:#fff">Average Order Value</div>
<div class="t" style="left:424px;top:760.1999999999999px;font-size:9.0px;font-weight:bold;-webkit-text-stroke:0;color:#fff">(AOV)</div>
<div class="t" style="left:610.5px;top:755.1999999999999px;font-size:9.0px;font-weight:bold;-webkit-text-stroke:0;color:#fff">Transactions</div>
<div class="t" style="left:759px;top:755.1999999999999px;font-size:9.0px;font-weight:bold;-webkit-text-stroke:0;color:#fff">Conversion Rate</div>
<div class="t" style="left:924.5px;top:755.1999999999999px;font-size:9.0px;font-weight:bold;-webkit-text-stroke:0;color:#fff">Sessions</div>
<div class="abs" style="left:16px;top:770px;width:1034px;height:233px;overflow:hidden">
<div class="t" style="left:8.399999999999999px;top:10.600000000000023px;font-size:9.0px;color:#fff;-webkit-text-stroke:0.15px #fff">(direct) / (none)</div>
<div class="t" style="right:858.4px;top:10.600000000000023px;font-size:9.0px;color:#fff;-webkit-text-stroke:0.15px #fff">$125.88K</div>
<div class="abs" style="left:177.0px;top:10.7px;width:25.0px;height:9px;background:#24e0d6"></div>
<div class="t" style="right:724.7px;top:10.600000000000023px;font-size:9.0px;color:#fff;-webkit-text-stroke:0.15px #fff">$6.04</div>
<div class="abs" style="left:311.2px;top:10.7px;width:3.0px;height:9px;background:#24e0d6"></div>
<div class="t" style="right:586.6px;top:10.600000000000023px;font-size:9.0px;color:#fff;-webkit-text-stroke:0.15px #fff">$164.98</div>
<div class="abs" style="left:449.2px;top:10.7px;width:9.1px;height:9px;background:#24e0d6"></div>
<div class="t" style="right:417.70000000000005px;top:10.600000000000023px;font-size:9.0px;color:#fff;-webkit-text-stroke:0.15px #fff">763</div>
<div class="abs" style="left:618.0px;top:10.7px;width:46.2px;height:9px;background:#24e0d6"></div>
<div class="t" style="right:257.29999999999995px;top:10.600000000000023px;font-size:9.0px;color:#fff;-webkit-text-stroke:0.15px #fff">2.41%</div>
<div class="abs" style="left:778.8px;top:10.7px;width:6.9px;height:9px;background:#24e0d6"></div>
<div class="t" style="right:98.60000000000002px;top:10.600000000000023px;font-size:9.0px;color:#fff;-webkit-text-stroke:0.15px #fff">31.2K</div>
<div class="abs" style="left:937.0px;top:10.7px;width:25.9px;height:9px;background:#24e0d6"></div>
<div class="t" style="right:782.6px;top:10.600000000000023px;font-size:9.0px;color:#fff;-webkit-text-stroke:0.15px #fff">-20.6%</div>
<svg style="left:254.89999999999998px;top:12.300000000000022px" width="3" height="6" viewBox="0 0 4 6" preserveAspectRatio="none"><path d="M1.3 0 H2.7 V3.2 H4 L2 6 L0 3.2 H1.3 Z" fill="#e8443a"/></svg>
<div class="t" style="right:649.8px;top:10.600000000000023px;font-size:9.0px;color:#fff;-webkit-text-stroke:0.15px #fff">-4.3%</div>
<svg style="left:388.3px;top:12.300000000000022px" width="3" height="6" viewBox="0 0 4 6" preserveAspectRatio="none"><path d="M1.3 0 H2.7 V3.2 H4 L2 6 L0 3.2 H1.3 Z" fill="#e8443a"/></svg>
<div class="t" style="right:463.1px;top:10.600000000000023px;font-size:9.0px;color:#fff;-webkit-text-stroke:0.15px #fff">13.9%</div>
<svg style="left:574.2px;top:12.300000000000022px" width="3" height="6" viewBox="0 0 4 6" preserveAspectRatio="none"><path d="M1.3 6 H2.7 V2.8 H4 L2 0 L0 2.8 H1.3 Z" fill="#3fa34d"/></svg>
<div class="t" style="right:315px;top:10.600000000000023px;font-size:9.0px;color:#fff;-webkit-text-stroke:0.15px #fff">-30.3%</div>
<svg style="left:722.1px;top:12.300000000000022px" width="3" height="6" viewBox="0 0 4 6" preserveAspectRatio="none"><path d="M1.3 0 H2.7 V3.2 H4 L2 6 L0 3.2 H1.3 Z" fill="#e8443a"/></svg>
<div class="t" style="right:150.10000000000002px;top:10.600000000000023px;font-size:9.0px;color:#fff;-webkit-text-stroke:0.15px #fff">-13.6%</div>
<svg style="left:887.2px;top:12.300000000000022px" width="3" height="6" viewBox="0 0 4 6" preserveAspectRatio="none"><path d="M1.3 0 H2.7 V3.2 H4 L2 6 L0 3.2 H1.3 Z" fill="#e8443a"/></svg>
<div class="t" style="right:16.299999999999955px;top:10.600000000000023px;font-size:9.0px;color:#fff;-webkit-text-stroke:0.15px #fff">-20.2%</div>
<svg style="left:1021.0px;top:12.300000000000022px" width="3" height="6" viewBox="0 0 4 6" preserveAspectRatio="none"><path d="M1.3 0 H2.7 V3.2 H4 L2 6 L0 3.2 H1.3 Z" fill="#e8443a"/></svg>
<div class="abs" style="left:0;top:27.0px;width:1034px;height:1px;background:#474747"></div>
<div class="t" style="left:8.399999999999999px;top:35.10000000000002px;font-size:9.0px;color:#fff;-webkit-text-stroke:0.15px #fff">google / organic</div>
<div class="t" style="right:858.4px;top:35.10000000000002px;font-size:9.0px;color:#fff;-webkit-text-stroke:0.15px #fff">$65.05K</div>
<div class="abs" style="left:177.0px;top:35.2px;width:12.9px;height:9px;background:#24e0d6"></div>
<div class="t" style="right:724.7px;top:35.10000000000002px;font-size:9.0px;color:#fff;-webkit-text-stroke:0.15px #fff">$3.16</div>
<div class="abs" style="left:311.2px;top:35.2px;width:1.5px;height:9px;background:#24e0d6"></div>
<div class="t" style="right:586.6px;top:35.10000000000002px;font-size:9.0px;color:#fff;-webkit-text-stroke:0.15px #fff">$188.54</div>
<div class="abs" style="left:449.2px;top:35.2px;width:10.4px;height:9px;background:#24e0d6"></div>
<div class="t" style="right:417.70000000000005px;top:35.10000000000002px;font-size:9.0px;color:#fff;-webkit-text-stroke:0.15px #fff">345</div>
<div class="abs" style="left:618.0px;top:35.2px;width:20.9px;height:9px;background:#24e0d6"></div>
<div class="t" style="right:257.29999999999995px;top:35.10000000000002px;font-size:9.0px;color:#fff;-webkit-text-stroke:0.15px #fff">1.16%</div>
<div class="abs" style="left:778.8px;top:35.2px;width:3.3px;height:9px;background:#24e0d6"></div>
<div class="t" style="right:98.60000000000002px;top:35.10000000000002px;font-size:9.0px;color:#fff;-webkit-text-stroke:0.15px #fff">29.4K</div>
<div class="abs" style="left:937.0px;top:35.2px;width:24.4px;height:9px;background:#24e0d6"></div>
<div class="t" style="right:782.6px;top:35.10000000000002px;font-size:9.0px;color:#fff;-webkit-text-stroke:0.15px #fff">-36.9%</div>
<svg style="left:254.89999999999998px;top:36.800000000000026px" width="3" height="6" viewBox="0 0 4 6" preserveAspectRatio="none"><path d="M1.3 0 H2.7 V3.2 H4 L2 6 L0 3.2 H1.3 Z" fill="#e8443a"/></svg>
<div class="t" style="right:649.8px;top:35.10000000000002px;font-size:9.0px;color:#fff;-webkit-text-stroke:0.15px #fff">-46.3%</div>
<svg style="left:388.3px;top:36.800000000000026px" width="3" height="6" viewBox="0 0 4 6" preserveAspectRatio="none"><path d="M1.3 0 H2.7 V3.2 H4 L2 6 L0 3.2 H1.3 Z" fill="#e8443a"/></svg>
<div class="t" style="right:463.1px;top:35.10000000000002px;font-size:9.0px;color:#fff;-webkit-text-stroke:0.15px #fff">-21.1%</div>
<svg style="left:574.2px;top:36.800000000000026px" width="3" height="6" viewBox="0 0 4 6" preserveAspectRatio="none"><path d="M1.3 0 H2.7 V3.2 H4 L2 6 L0 3.2 H1.3 Z" fill="#e8443a"/></svg>
<div class="t" style="right:315px;top:35.10000000000002px;font-size:9.0px;color:#fff;-webkit-text-stroke:0.15px #fff">-20.0%</div>
<svg style="left:722.1px;top:36.800000000000026px" width="3" height="6" viewBox="0 0 4 6" preserveAspectRatio="none"><path d="M1.3 0 H2.7 V3.2 H4 L2 6 L0 3.2 H1.3 Z" fill="#e8443a"/></svg>
<div class="t" style="right:150.10000000000002px;top:35.10000000000002px;font-size:9.0px;color:#fff;-webkit-text-stroke:0.15px #fff">-29.4%</div>
<svg style="left:887.2px;top:36.800000000000026px" width="3" height="6" viewBox="0 0 4 6" preserveAspectRatio="none"><path d="M1.3 0 H2.7 V3.2 H4 L2 6 L0 3.2 H1.3 Z" fill="#e8443a"/></svg>
<div class="t" style="right:16.299999999999955px;top:35.10000000000002px;font-size:9.0px;color:#fff;-webkit-text-stroke:0.15px #fff">12.7%</div>
<svg style="left:1021.0px;top:36.800000000000026px" width="3" height="6" viewBox="0 0 4 6" preserveAspectRatio="none"><path d="M1.3 6 H2.7 V2.8 H4 L2 0 L0 2.8 H1.3 Z" fill="#3fa34d"/></svg>
<div class="abs" style="left:0;top:51.3px;width:1034px;height:1px;background:#474747"></div>
<div class="t" style="left:8.399999999999999px;top:59.5px;font-size:9.0px;color:#fff;-webkit-text-stroke:0.15px #fff">google / cpc</div>
<div class="t" style="right:858.4px;top:59.5px;font-size:9.0px;color:#fff;-webkit-text-stroke:0.15px #fff">$29.68K</div>
<div class="abs" style="left:177.0px;top:59.6px;width:5.9px;height:9px;background:#24e0d6"></div>
<div class="t" style="right:724.7px;top:59.5px;font-size:9.0px;color:#fff;-webkit-text-stroke:0.15px #fff">$3.51</div>
<div class="abs" style="left:311.2px;top:59.6px;width:1.7px;height:9px;background:#24e0d6"></div>
<div class="t" style="right:586.6px;top:59.5px;font-size:9.0px;color:#fff;-webkit-text-stroke:0.15px #fff">$213.51</div>
<div class="abs" style="left:449.2px;top:59.6px;width:11.7px;height:9px;background:#24e0d6"></div>
<div class="t" style="right:417.70000000000005px;top:59.5px;font-size:9.0px;color:#fff;-webkit-text-stroke:0.15px #fff">139</div>
<div class="abs" style="left:618.0px;top:59.6px;width:8.4px;height:9px;background:#24e0d6"></div>
<div class="t" style="right:257.29999999999995px;top:59.5px;font-size:9.0px;color:#fff;-webkit-text-stroke:0.15px #fff">1.25%</div>
<div class="abs" style="left:778.8px;top:59.6px;width:3.6px;height:9px;background:#24e0d6"></div>
<div class="t" style="right:98.60000000000002px;top:59.5px;font-size:9.0px;color:#fff;-webkit-text-stroke:0.15px #fff">11K</div>
<div class="abs" style="left:937.0px;top:59.6px;width:9.1px;height:9px;background:#24e0d6"></div>
<div class="t" style="right:782.6px;top:59.5px;font-size:9.0px;color:#fff;-webkit-text-stroke:0.15px #fff">30.6%</div>
<svg style="left:254.89999999999998px;top:61.2px" width="3" height="6" viewBox="0 0 4 6" preserveAspectRatio="none"><path d="M1.3 6 H2.7 V2.8 H4 L2 0 L0 2.8 H1.3 Z" fill="#3fa34d"/></svg>
<div class="t" style="right:649.8px;top:59.5px;font-size:9.0px;color:#fff;-webkit-text-stroke:0.15px #fff">32.6%</div>
<svg style="left:388.3px;top:61.2px" width="3" height="6" viewBox="0 0 4 6" preserveAspectRatio="none"><path d="M1.3 6 H2.7 V2.8 H4 L2 0 L0 2.8 H1.3 Z" fill="#3fa34d"/></svg>
<div class="t" style="right:463.1px;top:59.5px;font-size:9.0px;color:#fff;-webkit-text-stroke:0.15px #fff">33.4%</div>
<svg style="left:574.2px;top:61.2px" width="3" height="6" viewBox="0 0 4 6" preserveAspectRatio="none"><path d="M1.3 6 H2.7 V2.8 H4 L2 0 L0 2.8 H1.3 Z" fill="#3fa34d"/></svg>
<div class="t" style="right:315px;top:59.5px;font-size:9.0px;color:#fff;-webkit-text-stroke:0.15px #fff">-2.1%</div>
<svg style="left:722.1px;top:61.2px" width="3" height="6" viewBox="0 0 4 6" preserveAspectRatio="none"><path d="M1.3 0 H2.7 V3.2 H4 L2 6 L0 3.2 H1.3 Z" fill="#e8443a"/></svg>
<div class="t" style="right:150.10000000000002px;top:59.5px;font-size:9.0px;color:#fff;-webkit-text-stroke:0.15px #fff">-1.5%</div>
<svg style="left:887.2px;top:61.2px" width="3" height="6" viewBox="0 0 4 6" preserveAspectRatio="none"><path d="M1.3 0 H2.7 V3.2 H4 L2 6 L0 3.2 H1.3 Z" fill="#e8443a"/></svg>
<div class="t" style="right:16.299999999999955px;top:59.5px;font-size:9.0px;color:#fff;-webkit-text-stroke:0.15px #fff">-0.7%</div>
<svg style="left:1021.0px;top:61.2px" width="3" height="6" viewBox="0 0 4 6" preserveAspectRatio="none"><path d="M1.3 0 H2.7 V3.2 H4 L2 6 L0 3.2 H1.3 Z" fill="#e8443a"/></svg>
<div class="abs" style="left:0;top:75.0px;width:1034px;height:1px;background:#474747"></div>
<div class="t" style="left:8.399999999999999px;top:82.89999999999998px;font-size:9.0px;color:#fff;-webkit-text-stroke:0.15px #fff">art-analytics.appspot.com</div>
<div class="t" style="left:8.399999999999999px;top:92.19999999999993px;font-size:9.0px;color:#fff;-webkit-text-stroke:0.15px #fff">/ referral</div>
<div class="t" style="right:858.4px;top:82.89999999999998px;font-size:9.0px;color:#fff;-webkit-text-stroke:0.15px #fff">$15.37K</div>
<div class="abs" style="left:177.0px;top:83.0px;width:3.1px;height:9px;background:#24e0d6"></div>
<div class="t" style="right:724.7px;top:82.89999999999998px;font-size:9.0px;color:#fff;-webkit-text-stroke:0.15px #fff">$16.56</div>
<div class="abs" style="left:311.2px;top:83.0px;width:8.1px;height:9px;background:#24e0d6"></div>
<div class="t" style="right:586.6px;top:82.89999999999998px;font-size:9.0px;color:#fff;-webkit-text-stroke:0.15px #fff">$251.93</div>
<div class="abs" style="left:449.2px;top:83.0px;width:13.9px;height:9px;background:#24e0d6"></div>
<div class="t" style="right:417.70000000000005px;top:82.89999999999998px;font-size:9.0px;color:#fff;-webkit-text-stroke:0.15px #fff">61</div>
<div class="abs" style="left:618.0px;top:83.0px;width:3.7px;height:9px;background:#24e0d6"></div>
<div class="t" style="right:257.29999999999995px;top:82.89999999999998px;font-size:9.0px;color:#fff;-webkit-text-stroke:0.15px #fff">3.49%</div>
<div class="abs" style="left:778.8px;top:83.0px;width:9.9px;height:9px;background:#24e0d6"></div>
<div class="t" style="right:98.60000000000002px;top:82.89999999999998px;font-size:9.0px;color:#fff;-webkit-text-stroke:0.15px #fff">1.7K</div>
<div class="abs" style="left:937.0px;top:83.0px;width:1.4px;height:9px;background:#24e0d6"></div>
<div class="t" style="right:782.6px;top:82.89999999999998px;font-size:9.0px;color:#fff;-webkit-text-stroke:0.15px #fff">39.0%</div>
<svg style="left:254.89999999999998px;top:84.59999999999998px" width="3" height="6" viewBox="0 0 4 6" preserveAspectRatio="none"><path d="M1.3 6 H2.7 V2.8 H4 L2 0 L0 2.8 H1.3 Z" fill="#3fa34d"/></svg>
<div class="t" style="right:649.8px;top:82.89999999999998px;font-size:9.0px;color:#fff;-webkit-text-stroke:0.15px #fff">-10.9%</div>
<svg style="left:388.3px;top:84.59999999999998px" width="3" height="6" viewBox="0 0 4 6" preserveAspectRatio="none"><path d="M1.3 0 H2.7 V3.2 H4 L2 6 L0 3.2 H1.3 Z" fill="#e8443a"/></svg>
<div class="t" style="right:463.1px;top:82.89999999999998px;font-size:9.0px;color:#fff;-webkit-text-stroke:0.15px #fff">20.7%</div>
<svg style="left:574.2px;top:84.59999999999998px" width="3" height="6" viewBox="0 0 4 6" preserveAspectRatio="none"><path d="M1.3 6 H2.7 V2.8 H4 L2 0 L0 2.8 H1.3 Z" fill="#3fa34d"/></svg>
<div class="t" style="right:315px;top:82.89999999999998px;font-size:9.0px;color:#fff;-webkit-text-stroke:0.15px #fff">15.1%</div>
<svg style="left:722.1px;top:84.59999999999998px" width="3" height="6" viewBox="0 0 4 6" preserveAspectRatio="none"><path d="M1.3 6 H2.7 V2.8 H4 L2 0 L0 2.8 H1.3 Z" fill="#3fa34d"/></svg>
<div class="t" style="right:150.10000000000002px;top:82.89999999999998px;font-size:9.0px;color:#fff;-webkit-text-stroke:0.15px #fff">-21.7%</div>
<svg style="left:887.2px;top:84.59999999999998px" width="3" height="6" viewBox="0 0 4 6" preserveAspectRatio="none"><path d="M1.3 0 H2.7 V3.2 H4 L2 6 L0 3.2 H1.3 Z" fill="#e8443a"/></svg>
<div class="t" style="right:16.299999999999955px;top:82.89999999999998px;font-size:9.0px;color:#fff;-webkit-text-stroke:0.15px #fff">47.0%</div>
<svg style="left:1021.0px;top:84.59999999999998px" width="3" height="6" viewBox="0 0 4 6" preserveAspectRatio="none"><path d="M1.3 6 H2.7 V2.8 H4 L2 0 L0 2.8 H1.3 Z" fill="#3fa34d"/></svg>
<div class="abs" style="left:0;top:108.1px;width:1034px;height:1px;background:#474747"></div>
<div class="t" style="left:8.399999999999999px;top:116.70000000000005px;font-size:9.0px;color:#fff;-webkit-text-stroke:0.15px #fff">Newsletter_October_2025</div>
<div class="t" style="left:8.399999999999999px;top:126.0px;font-size:9.0px;color:#fff;-webkit-text-stroke:0.15px #fff">/ email</div>
<div class="t" style="right:858.4px;top:116.70000000000005px;font-size:9.0px;color:#fff;-webkit-text-stroke:0.15px #fff">$13.43K</div>
<div class="abs" style="left:177.0px;top:116.8px;width:2.7px;height:9px;background:#24e0d6"></div>
<div class="t" style="right:724.7px;top:116.70000000000005px;font-size:9.0px;color:#fff;-webkit-text-stroke:0.15px #fff">$9.2</div>
<div class="abs" style="left:311.2px;top:116.8px;width:4.5px;height:9px;background:#24e0d6"></div>
<div class="t" style="right:586.6px;top:116.70000000000005px;font-size:9.0px;color:#fff;-webkit-text-stroke:0.15px #fff">$132.94</div>
<div class="abs" style="left:449.2px;top:116.8px;width:7.3px;height:9px;background:#24e0d6"></div>
<div class="t" style="right:417.70000000000005px;top:116.70000000000005px;font-size:9.0px;color:#fff;-webkit-text-stroke:0.15px #fff">101</div>
<div class="abs" style="left:618.0px;top:116.8px;width:6.1px;height:9px;background:#24e0d6"></div>
<div class="t" style="right:257.29999999999995px;top:116.70000000000005px;font-size:9.0px;color:#fff;-webkit-text-stroke:0.15px #fff">4.57%</div>
<div class="abs" style="left:778.8px;top:116.8px;width:13.0px;height:9px;background:#24e0d6"></div>
<div class="t" style="right:98.60000000000002px;top:116.70000000000005px;font-size:9.0px;color:#fff;-webkit-text-stroke:0.15px #fff">2.2K</div>
<div class="abs" style="left:937.0px;top:116.8px;width:1.8px;height:9px;background:#24e0d6"></div>
<div class="t" style="right:773.5px;top:116.70000000000005px;font-size:9.0px;color:#fff;-webkit-text-stroke:0.15px #fff">-</div>
<div class="t" style="right:641.5px;top:116.70000000000005px;font-size:9.0px;color:#fff;-webkit-text-stroke:0.15px #fff">-</div>
<div class="t" style="right:454.5px;top:116.70000000000005px;font-size:9.0px;color:#fff;-webkit-text-stroke:0.15px #fff">-</div>
<div class="t" style="right:305.20000000000005px;top:116.70000000000005px;font-size:9.0px;color:#fff;-webkit-text-stroke:0.15px #fff">-</div>
<div class="t" style="right:141.0px;top:116.70000000000005px;font-size:9.0px;color:#fff;-webkit-text-stroke:0.15px #fff">-</div>
<div class="t" style="right:7.2000000000000455px;top:116.70000000000005px;font-size:9.0px;color:#fff;-webkit-text-stroke:0.15px #fff">-</div>
<div class="abs" style="left:0;top:140.9px;width:1034px;height:1px;background:#474747"></div>
<div class="t" style="left:8.399999999999999px;top:149.5px;font-size:9.0px;color:#fff;-webkit-text-stroke:0.15px #fff">support.google.com /</div>
<div class="t" style="left:8.399999999999999px;top:158.79999999999995px;font-size:9.0px;color:#fff;-webkit-text-stroke:0.15px #fff">referral</div>
<div class="t" style="right:858.4px;top:149.5px;font-size:9.0px;color:#fff;-webkit-text-stroke:0.15px #fff">$9.67K</div>
<div class="abs" style="left:177.0px;top:149.6px;width:1.9px;height:9px;background:#24e0d6"></div>
<div class="t" style="right:724.7px;top:149.5px;font-size:9.0px;color:#fff;-webkit-text-stroke:0.15px #fff">$28.54</div>
<div class="abs" style="left:311.2px;top:149.6px;width:14.0px;height:9px;background:#24e0d6"></div>
<div class="t" style="right:586.6px;top:149.5px;font-size:9.0px;color:#fff;-webkit-text-stroke:0.15px #fff">$967.36</div>
<div class="abs" style="left:449.2px;top:149.6px;width:53.2px;height:9px;background:#24e0d6"></div>
<div class="t" style="right:417.70000000000005px;top:149.5px;font-size:9.0px;color:#fff;-webkit-text-stroke:0.15px #fff">10</div>
<div class="abs" style="left:618.0px;top:149.6px;width:1.0px;height:9px;background:#24e0d6"></div>
<div class="t" style="right:257.29999999999995px;top:149.5px;font-size:9.0px;color:#fff;-webkit-text-stroke:0.15px #fff">1.96%</div>
<div class="abs" style="left:778.8px;top:149.6px;width:5.6px;height:9px;background:#24e0d6"></div>
<div class="t" style="right:98.60000000000002px;top:149.5px;font-size:9.0px;color:#fff;-webkit-text-stroke:0.15px #fff">510</div>
<div class="abs" style="left:937.0px;top:149.6px;width:1.0px;height:9px;background:#24e0d6"></div>
<div class="t" style="right:782.6px;top:149.5px;font-size:9.0px;color:#fff;-webkit-text-stroke:0.15px #fff">181.0%</div>
<svg style="left:254.89999999999998px;top:151.2px" width="3" height="6" viewBox="0 0 4 6" preserveAspectRatio="none"><path d="M1.3 6 H2.7 V2.8 H4 L2 0 L0 2.8 H1.3 Z" fill="#3fa34d"/></svg>
<div class="t" style="right:649.8px;top:149.5px;font-size:9.0px;color:#fff;-webkit-text-stroke:0.15px #fff">213.3%</div>
<svg style="left:388.3px;top:151.2px" width="3" height="6" viewBox="0 0 4 6" preserveAspectRatio="none"><path d="M1.3 6 H2.7 V2.8 H4 L2 0 L0 2.8 H1.3 Z" fill="#3fa34d"/></svg>
<div class="t" style="right:463.1px;top:149.5px;font-size:9.0px;color:#fff;-webkit-text-stroke:0.15px #fff">96.7%</div>
<svg style="left:574.2px;top:151.2px" width="3" height="6" viewBox="0 0 4 6" preserveAspectRatio="none"><path d="M1.3 6 H2.7 V2.8 H4 L2 0 L0 2.8 H1.3 Z" fill="#3fa34d"/></svg>
<div class="t" style="right:315px;top:149.5px;font-size:9.0px;color:#fff;-webkit-text-stroke:0.15px #fff">42.9%</div>
<svg style="left:722.1px;top:151.2px" width="3" height="6" viewBox="0 0 4 6" preserveAspectRatio="none"><path d="M1.3 6 H2.7 V2.8 H4 L2 0 L0 2.8 H1.3 Z" fill="#3fa34d"/></svg>
<div class="t" style="right:150.10000000000002px;top:149.5px;font-size:9.0px;color:#fff;-webkit-text-stroke:0.15px #fff">46.2%</div>
<svg style="left:887.2px;top:151.2px" width="3" height="6" viewBox="0 0 4 6" preserveAspectRatio="none"><path d="M1.3 6 H2.7 V2.8 H4 L2 0 L0 2.8 H1.3 Z" fill="#3fa34d"/></svg>
<div class="t" style="right:16.299999999999955px;top:149.5px;font-size:9.0px;color:#fff;-webkit-text-stroke:0.15px #fff">-2.3%</div>
<svg style="left:1021.0px;top:151.2px" width="3" height="6" viewBox="0 0 4 6" preserveAspectRatio="none"><path d="M1.3 0 H2.7 V3.2 H4 L2 6 L0 3.2 H1.3 Z" fill="#e8443a"/></svg>
<div class="abs" style="left:0;top:174.7px;width:1034px;height:1px;background:#474747"></div>
<div class="t" style="left:8.399999999999999px;top:183.29999999999995px;font-size:9.0px;color:#fff;-webkit-text-stroke:0.15px #fff">(data not available)</div>
<div class="t" style="right:858.4px;top:183.29999999999995px;font-size:9.0px;color:#fff;-webkit-text-stroke:0.15px #fff">$8.87K</div>
<div class="abs" style="left:177.0px;top:183.4px;width:1.8px;height:9px;background:#24e0d6"></div>
<div class="t" style="right:724.7px;top:183.29999999999995px;font-size:9.0px;color:#fff;-webkit-text-stroke:0.15px #fff">$10.28</div>
<div class="abs" style="left:311.2px;top:183.4px;width:5.0px;height:9px;background:#24e0d6"></div>
<div class="t" style="right:586.6px;top:183.29999999999995px;font-size:9.0px;color:#fff;-webkit-text-stroke:0.15px #fff">$253.51</div>
<div class="abs" style="left:449.2px;top:183.4px;width:13.9px;height:9px;background:#24e0d6"></div>
<div class="t" style="right:417.70000000000005px;top:183.29999999999995px;font-size:9.0px;color:#fff;-webkit-text-stroke:0.15px #fff">35</div>
<div class="abs" style="left:618.0px;top:183.4px;width:2.1px;height:9px;background:#24e0d6"></div>
<div class="t" style="right:257.29999999999995px;top:183.29999999999995px;font-size:9.0px;color:#fff;-webkit-text-stroke:0.15px #fff">3.95%</div>
<div class="abs" style="left:778.8px;top:183.4px;width:11.3px;height:9px;background:#24e0d6"></div>
<div class="t" style="right:98.60000000000002px;top:183.29999999999995px;font-size:9.0px;color:#fff;-webkit-text-stroke:0.15px #fff">887</div>
<div class="abs" style="left:937.0px;top:183.4px;width:1.0px;height:9px;background:#24e0d6"></div>
<div class="t" style="right:782.6px;top:183.29999999999995px;font-size:9.0px;color:#fff;-webkit-text-stroke:0.15px #fff">-12.2%</div>
<svg style="left:254.89999999999998px;top:184.99999999999994px" width="3" height="6" viewBox="0 0 4 6" preserveAspectRatio="none"><path d="M1.3 0 H2.7 V3.2 H4 L2 6 L0 3.2 H1.3 Z" fill="#e8443a"/></svg>
<div class="t" style="right:649.8px;top:183.29999999999995px;font-size:9.0px;color:#fff;-webkit-text-stroke:0.15px #fff">-2.5%</div>
<svg style="left:388.3px;top:184.99999999999994px" width="3" height="6" viewBox="0 0 4 6" preserveAspectRatio="none"><path d="M1.3 0 H2.7 V3.2 H4 L2 6 L0 3.2 H1.3 Z" fill="#e8443a"/></svg>
<div class="t" style="right:463.1px;top:183.29999999999995px;font-size:9.0px;color:#fff;-webkit-text-stroke:0.15px #fff">55.5%</div>
<svg style="left:574.2px;top:184.99999999999994px" width="3" height="6" viewBox="0 0 4 6" preserveAspectRatio="none"><path d="M1.3 6 H2.7 V2.8 H4 L2 0 L0 2.8 H1.3 Z" fill="#3fa34d"/></svg>
<div class="t" style="right:315px;top:183.29999999999995px;font-size:9.0px;color:#fff;-webkit-text-stroke:0.15px #fff">-43.5%</div>
<svg style="left:722.1px;top:184.99999999999994px" width="3" height="6" viewBox="0 0 4 6" preserveAspectRatio="none"><path d="M1.3 0 H2.7 V3.2 H4 L2 6 L0 3.2 H1.3 Z" fill="#e8443a"/></svg>
<div class="t" style="right:150.10000000000002px;top:183.29999999999995px;font-size:9.0px;color:#fff;-webkit-text-stroke:0.15px #fff">-37.2%</div>
<svg style="left:887.2px;top:184.99999999999994px" width="3" height="6" viewBox="0 0 4 6" preserveAspectRatio="none"><path d="M1.3 0 H2.7 V3.2 H4 L2 6 L0 3.2 H1.3 Z" fill="#e8443a"/></svg>
<div class="t" style="right:16.299999999999955px;top:183.29999999999995px;font-size:9.0px;color:#fff;-webkit-text-stroke:0.15px #fff">-10.0%</div>
<svg style="left:1021.0px;top:184.99999999999994px" width="3" height="6" viewBox="0 0 4 6" preserveAspectRatio="none"><path d="M1.3 0 H2.7 V3.2 H4 L2 6 L0 3.2 H1.3 Z" fill="#e8443a"/></svg>
<div class="abs" style="left:0;top:198.8px;width:1034px;height:1px;background:#474747"></div>
<div class="t" style="left:8.399999999999999px;top:206.5px;font-size:9.0px;color:#fff;-webkit-text-stroke:0.15px #fff">(not set) / email</div>
<div class="t" style="right:858.4px;top:206.5px;font-size:9.0px;color:#fff;-webkit-text-stroke:0.15px #fff">$7.69K</div>
<div class="abs" style="left:177.0px;top:206.6px;width:1.5px;height:9px;background:#24e0d6"></div>
<div class="t" style="right:724.7px;top:206.5px;font-size:9.0px;color:#fff;-webkit-text-stroke:0.15px #fff">$5.75</div>
<div class="abs" style="left:311.2px;top:206.6px;width:2.8px;height:9px;background:#24e0d6"></div>
<div class="t" style="right:586.6px;top:206.5px;font-size:9.0px;color:#fff;-webkit-text-stroke:0.15px #fff">$96.14</div>
<div class="abs" style="left:449.2px;top:206.6px;width:5.3px;height:9px;background:#24e0d6"></div>
<div class="t" style="right:417.70000000000005px;top:206.5px;font-size:9.0px;color:#fff;-webkit-text-stroke:0.15px #fff">80</div>
<div class="abs" style="left:618.0px;top:206.6px;width:4.8px;height:9px;background:#24e0d6"></div>
<div class="t" style="right:257.29999999999995px;top:206.5px;font-size:9.0px;color:#fff;-webkit-text-stroke:0.15px #fff">3.08%</div>
<div class="abs" style="left:778.8px;top:206.6px;width:8.8px;height:9px;background:#24e0d6"></div>
<div class="t" style="right:98.60000000000002px;top:206.5px;font-size:9.0px;color:#fff;-webkit-text-stroke:0.15px #fff">2.6K</div>
<div class="abs" style="left:937.0px;top:206.6px;width:2.2px;height:9px;background:#24e0d6"></div>
<div class="t" style="right:782.6px;top:206.5px;font-size:9.0px;color:#fff;-webkit-text-stroke:0.15px #fff">-24.4%</div>
<svg style="left:254.89999999999998px;top:208.2px" width="3" height="6" viewBox="0 0 4 6" preserveAspectRatio="none"><path d="M1.3 0 H2.7 V3.2 H4 L2 6 L0 3.2 H1.3 Z" fill="#e8443a"/></svg>
<div class="t" style="right:649.8px;top:206.5px;font-size:9.0px;color:#fff;-webkit-text-stroke:0.15px #fff">-71.2%</div>
<svg style="left:388.3px;top:208.2px" width="3" height="6" viewBox="0 0 4 6" preserveAspectRatio="none"><path d="M1.3 0 H2.7 V3.2 H4 L2 6 L0 3.2 H1.3 Z" fill="#e8443a"/></svg>
<div class="t" style="right:463.1px;top:206.5px;font-size:9.0px;color:#fff;-webkit-text-stroke:0.15px #fff">-43.3%</div>
<svg style="left:574.2px;top:208.2px" width="3" height="6" viewBox="0 0 4 6" preserveAspectRatio="none"><path d="M1.3 0 H2.7 V3.2 H4 L2 6 L0 3.2 H1.3 Z" fill="#e8443a"/></svg>
<div class="t" style="right:315px;top:206.5px;font-size:9.0px;color:#fff;-webkit-text-stroke:0.15px #fff">33.3%</div>
<svg style="left:722.1px;top:208.2px" width="3" height="6" viewBox="0 0 4 6" preserveAspectRatio="none"><path d="M1.3 6 H2.7 V2.8 H4 L2 0 L0 2.8 H1.3 Z" fill="#3fa34d"/></svg>
<div class="t" style="right:150.10000000000002px;top:206.5px;font-size:9.0px;color:#fff;-webkit-text-stroke:0.15px #fff">-39.4%</div>
<svg style="left:887.2px;top:208.2px" width="3" height="6" viewBox="0 0 4 6" preserveAspectRatio="none"><path d="M1.3 0 H2.7 V3.2 H4 L2 6 L0 3.2 H1.3 Z" fill="#e8443a"/></svg>
<div class="t" style="right:16.299999999999955px;top:206.5px;font-size:9.0px;color:#fff;-webkit-text-stroke:0.15px #fff">120.0%</div>
<svg style="left:1021.0px;top:208.2px" width="3" height="6" viewBox="0 0 4 6" preserveAspectRatio="none"><path d="M1.3 6 H2.7 V2.8 H4 L2 0 L0 2.8 H1.3 Z" fill="#3fa34d"/></svg>
<div class="abs" style="left:0;top:222.9px;width:1034px;height:1px;background:#474747"></div>
<div class="t" style="left:8.399999999999999px;top:230.89999999999998px;font-size:9.0px;color:#fff;-webkit-text-stroke:0.15px #fff">mail.google.com / referral</div>
<div class="t" style="right:858.4px;top:230.89999999999998px;font-size:9.0px;color:#fff;-webkit-text-stroke:0.15px #fff">$6.93K</div>
<div class="abs" style="left:177.0px;top:231.0px;width:1.4px;height:9px;background:#24e0d6"></div>
<div class="t" style="right:724.7px;top:230.89999999999998px;font-size:9.0px;color:#fff;-webkit-text-stroke:0.15px #fff">$27.96</div>
<div class="abs" style="left:311.2px;top:231.0px;width:19.3px;height:9px;background:#24e0d6"></div>
<div class="t" style="right:586.6px;top:230.89999999999998px;font-size:9.0px;color:#fff;-webkit-text-stroke:0.15px #fff">$462.3</div>
<div class="abs" style="left:449.2px;top:231.0px;width:9.6px;height:9px;background:#24e0d6"></div>
<div class="t" style="right:417.70000000000005px;top:230.89999999999998px;font-size:9.0px;color:#fff;-webkit-text-stroke:0.15px #fff">15</div>
<div class="abs" style="left:618.0px;top:231.0px;width:3.5px;height:9px;background:#24e0d6"></div>
<div class="t" style="right:257.29999999999995px;top:230.89999999999998px;font-size:9.0px;color:#fff;-webkit-text-stroke:0.15px #fff">19.23%</div>
<div class="abs" style="left:778.8px;top:231.0px;width:29.9px;height:9px;background:#24e0d6"></div>
<div class="t" style="right:98.60000000000002px;top:230.89999999999998px;font-size:9.0px;color:#fff;-webkit-text-stroke:0.15px #fff">406</div>
<div class="abs" style="left:937.0px;top:231.0px;width:1.0px;height:9px;background:#24e0d6"></div>
<div class="t" style="right:782.6px;top:230.89999999999998px;font-size:9.0px;color:#fff;-webkit-text-stroke:0.15px #fff">768.4%</div>
<svg style="left:254.89999999999998px;top:232.59999999999997px" width="3" height="6" viewBox="0 0 4 6" preserveAspectRatio="none"><path d="M1.3 6 H2.7 V2.8 H4 L2 0 L0 2.8 H1.3 Z" fill="#3fa34d"/></svg>
<div class="t" style="right:649.8px;top:230.89999999999998px;font-size:9.0px;color:#fff;-webkit-text-stroke:0.15px #fff">113.8%</div>
<svg style="left:388.3px;top:232.59999999999997px" width="3" height="6" viewBox="0 0 4 6" preserveAspectRatio="none"><path d="M1.3 6 H2.7 V2.8 H4 L2 0 L0 2.8 H1.3 Z" fill="#3fa34d"/></svg>
<div class="t" style="right:463.1px;top:230.89999999999998px;font-size:9.0px;color:#fff;-webkit-text-stroke:0.15px #fff">38.9%</div>
<svg style="left:574.2px;top:232.59999999999997px" width="3" height="6" viewBox="0 0 4 6" preserveAspectRatio="none"><path d="M1.3 6 H2.7 V2.8 H4 L2 0 L0 2.8 H1.3 Z" fill="#3fa34d"/></svg>
<div class="t" style="right:315px;top:230.89999999999998px;font-size:9.0px;color:#fff;-webkit-text-stroke:0.15px #fff">200.0%</div>
<svg style="left:722.1px;top:232.59999999999997px" width="3" height="6" viewBox="0 0 4 6" preserveAspectRatio="none"><path d="M1.3 6 H2.7 V2.8 H4 L2 0 L0 2.8 H1.3 Z" fill="#3fa34d"/></svg>
<div class="t" style="right:150.10000000000002px;top:230.89999999999998px;font-size:9.0px;color:#fff;-webkit-text-stroke:0.15px #fff">245.7%</div>
<svg style="left:887.2px;top:232.59999999999997px" width="3" height="6" viewBox="0 0 4 6" preserveAspectRatio="none"><path d="M1.3 6 H2.7 V2.8 H4 L2 0 L0 2.8 H1.3 Z" fill="#3fa34d"/></svg>
<div class="t" style="right:16.299999999999955px;top:230.89999999999998px;font-size:9.0px;color:#fff;-webkit-text-stroke:0.15px #fff">70.6%</div>
<svg style="left:1021.0px;top:232.59999999999997px" width="3" height="6" viewBox="0 0 4 6" preserveAspectRatio="none"><path d="M1.3 6 H2.7 V2.8 H4 L2 0 L0 2.8 H1.3 Z" fill="#3fa34d"/></svg>
<div class="abs" style="left:0;top:255.9px;width:1034px;height:1px;background:#474747"></div>
</div>
<div class="t" style="left:24.6px;top:1010.2px;font-size:9.0px;font-weight:bold;-webkit-text-stroke:0;color:#fff">Grand total</div>
<div class="t" style="left:146px;top:1010.2px;font-size:9.0px;font-weight:bold;-webkit-text-stroke:0;color:#fff">$297.51K</div>
<div class="t" style="left:291.5px;top:1010.2px;font-size:9.0px;font-weight:bold;-webkit-text-stroke:0;color:#fff">$4.77</div>
<div class="t" style="left:424px;top:1010.2px;font-size:9.0px;font-weight:bold;-webkit-text-stroke:0;color:#fff">$175.73</div>
<div class="t" style="left:610.5px;top:1010.2px;font-size:9.0px;font-weight:bold;-webkit-text-stroke:0;color:#fff">1.7K</div>
<div class="t" style="left:759px;top:1010.2px;font-size:9.0px;font-weight:bold;-webkit-text-stroke:0;color:#fff">1.78%</div>
<div class="t" style="left:924.5px;top:1010.2px;font-size:9.0px;font-weight:bold;-webkit-text-stroke:0;color:#fff">93.9K</div>
<div class="t" style="right:796.6px;top:1010.2px;font-size:9.0px;font-weight:bold;-webkit-text-stroke:0;color:#fff">-12.3%</div>
<svg style="left:270.9px;top:1011.8px" width="3" height="6" viewBox="0 0 4 6" preserveAspectRatio="none"><path d="M1.3 0 H2.7 V3.2 H4 L2 6 L0 3.2 H1.3 Z" fill="#e8443a"/></svg>
<div class="t" style="right:663.8px;top:1010.2px;font-size:9.0px;font-weight:bold;-webkit-text-stroke:0;color:#fff">-9.5%</div>
<svg style="left:404.3px;top:1011.8px" width="3" height="6" viewBox="0 0 4 6" preserveAspectRatio="none"><path d="M1.3 0 H2.7 V3.2 H4 L2 6 L0 3.2 H1.3 Z" fill="#e8443a"/></svg>
<div class="t" style="right:477.1px;top:1010.2px;font-size:9.0px;font-weight:bold;-webkit-text-stroke:0;color:#fff">4.7%</div>
<svg style="left:590.2px;top:1011.8px" width="3" height="6" viewBox="0 0 4 6" preserveAspectRatio="none"><path d="M1.3 6 H2.7 V2.8 H4 L2 0 L0 2.8 H1.3 Z" fill="#3fa34d"/></svg>
<div class="t" style="right:329px;top:1010.2px;font-size:9.0px;font-weight:bold;-webkit-text-stroke:0;color:#fff">-16.2%</div>
<svg style="left:738.1px;top:1011.8px" width="3" height="6" viewBox="0 0 4 6" preserveAspectRatio="none"><path d="M1.3 0 H2.7 V3.2 H4 L2 6 L0 3.2 H1.3 Z" fill="#e8443a"/></svg>
<div class="t" style="right:164.10000000000002px;top:1010.2px;font-size:9.0px;font-weight:bold;-webkit-text-stroke:0;color:#fff">-13.6%</div>
<svg style="left:903.2px;top:1011.8px" width="3" height="6" viewBox="0 0 4 6" preserveAspectRatio="none"><path d="M1.3 0 H2.7 V3.2 H4 L2 6 L0 3.2 H1.3 Z" fill="#e8443a"/></svg>
<div class="t" style="right:30.299999999999955px;top:1010.2px;font-size:9.0px;font-weight:bold;-webkit-text-stroke:0;color:#fff">-3.2%</div>
<svg style="left:1037.0px;top:1011.8px" width="3" height="6" viewBox="0 0 4 6" preserveAspectRatio="none"><path d="M1.3 0 H2.7 V3.2 H4 L2 6 L0 3.2 H1.3 Z" fill="#e8443a"/></svg>
<div class="t" style="right:84.5px;top:1035px;font-size:9px;color:#fff;-webkit-text-stroke:0.1px #fff">1 - 100 / 113</div>
<svg style="left:1001px;top:1034px" width="7" height="11" viewBox="0 0 7 11" fill="none" stroke="#6e6e6e" stroke-width="1.5"><path d="M6 0.8 L1.3 5.5 L6 10.2"/></svg>
<svg style="left:1031px;top:1034px" width="7" height="11" viewBox="0 0 7 11" fill="none" stroke="#fff" stroke-width="1.5"><path d="M1 0.8 L5.7 5.5 L1 10.2"/></svg>
</body></html>
